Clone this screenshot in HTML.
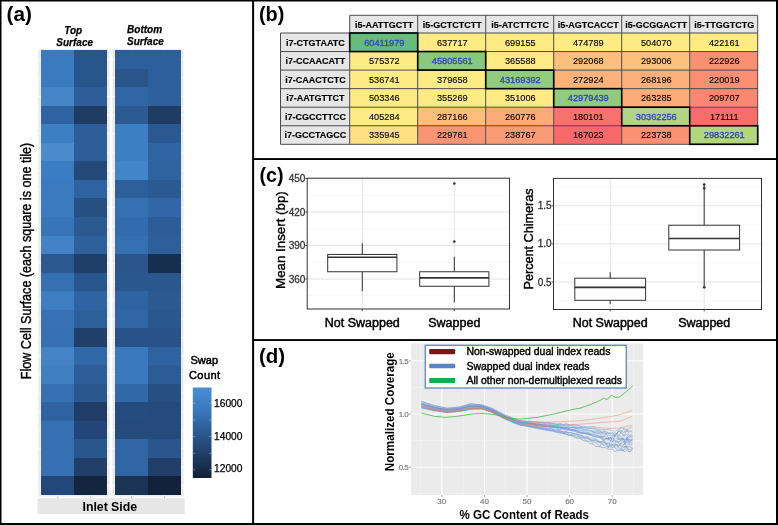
<!DOCTYPE html>
<html><head><meta charset="utf-8"><style>
html,body{margin:0;padding:0;background:#fff;}
body{width:778px;height:525px;overflow:hidden;}
svg{display:block;font-family:'Liberation Sans',sans-serif;will-change:transform;}
</style></head><body>
<svg width="778" height="525" viewBox="0 0 778 525" font-family="Liberation Sans, sans-serif">
<rect width="778" height="525" fill="#fff"/>
<rect x="38.3" y="49" width="71.3" height="447.6" fill="#ebebeb"/>
<rect x="112.4" y="49" width="71.19999999999999" height="447.6" fill="#ebebeb"/>
<line x1="38.3" x2="109.6" y1="59.47" y2="59.47" stroke="#fff" stroke-width="0.8"/>
<line x1="112.4" x2="183.6" y1="59.47" y2="59.47" stroke="#fff" stroke-width="0.8"/>
<line x1="38.3" x2="109.6" y1="78.00" y2="78.00" stroke="#fff" stroke-width="0.8"/>
<line x1="112.4" x2="183.6" y1="78.00" y2="78.00" stroke="#fff" stroke-width="0.8"/>
<line x1="38.3" x2="109.6" y1="96.53" y2="96.53" stroke="#fff" stroke-width="0.8"/>
<line x1="112.4" x2="183.6" y1="96.53" y2="96.53" stroke="#fff" stroke-width="0.8"/>
<line x1="38.3" x2="109.6" y1="115.07" y2="115.07" stroke="#fff" stroke-width="0.8"/>
<line x1="112.4" x2="183.6" y1="115.07" y2="115.07" stroke="#fff" stroke-width="0.8"/>
<line x1="38.3" x2="109.6" y1="133.60" y2="133.60" stroke="#fff" stroke-width="0.8"/>
<line x1="112.4" x2="183.6" y1="133.60" y2="133.60" stroke="#fff" stroke-width="0.8"/>
<line x1="38.3" x2="109.6" y1="152.13" y2="152.13" stroke="#fff" stroke-width="0.8"/>
<line x1="112.4" x2="183.6" y1="152.13" y2="152.13" stroke="#fff" stroke-width="0.8"/>
<line x1="38.3" x2="109.6" y1="170.67" y2="170.67" stroke="#fff" stroke-width="0.8"/>
<line x1="112.4" x2="183.6" y1="170.67" y2="170.67" stroke="#fff" stroke-width="0.8"/>
<line x1="38.3" x2="109.6" y1="189.20" y2="189.20" stroke="#fff" stroke-width="0.8"/>
<line x1="112.4" x2="183.6" y1="189.20" y2="189.20" stroke="#fff" stroke-width="0.8"/>
<line x1="38.3" x2="109.6" y1="207.73" y2="207.73" stroke="#fff" stroke-width="0.8"/>
<line x1="112.4" x2="183.6" y1="207.73" y2="207.73" stroke="#fff" stroke-width="0.8"/>
<line x1="38.3" x2="109.6" y1="226.27" y2="226.27" stroke="#fff" stroke-width="0.8"/>
<line x1="112.4" x2="183.6" y1="226.27" y2="226.27" stroke="#fff" stroke-width="0.8"/>
<line x1="38.3" x2="109.6" y1="244.80" y2="244.80" stroke="#fff" stroke-width="0.8"/>
<line x1="112.4" x2="183.6" y1="244.80" y2="244.80" stroke="#fff" stroke-width="0.8"/>
<line x1="38.3" x2="109.6" y1="263.33" y2="263.33" stroke="#fff" stroke-width="0.8"/>
<line x1="112.4" x2="183.6" y1="263.33" y2="263.33" stroke="#fff" stroke-width="0.8"/>
<line x1="38.3" x2="109.6" y1="281.87" y2="281.87" stroke="#fff" stroke-width="0.8"/>
<line x1="112.4" x2="183.6" y1="281.87" y2="281.87" stroke="#fff" stroke-width="0.8"/>
<line x1="38.3" x2="109.6" y1="300.40" y2="300.40" stroke="#fff" stroke-width="0.8"/>
<line x1="112.4" x2="183.6" y1="300.40" y2="300.40" stroke="#fff" stroke-width="0.8"/>
<line x1="38.3" x2="109.6" y1="318.93" y2="318.93" stroke="#fff" stroke-width="0.8"/>
<line x1="112.4" x2="183.6" y1="318.93" y2="318.93" stroke="#fff" stroke-width="0.8"/>
<line x1="38.3" x2="109.6" y1="337.47" y2="337.47" stroke="#fff" stroke-width="0.8"/>
<line x1="112.4" x2="183.6" y1="337.47" y2="337.47" stroke="#fff" stroke-width="0.8"/>
<line x1="38.3" x2="109.6" y1="356.00" y2="356.00" stroke="#fff" stroke-width="0.8"/>
<line x1="112.4" x2="183.6" y1="356.00" y2="356.00" stroke="#fff" stroke-width="0.8"/>
<line x1="38.3" x2="109.6" y1="374.53" y2="374.53" stroke="#fff" stroke-width="0.8"/>
<line x1="112.4" x2="183.6" y1="374.53" y2="374.53" stroke="#fff" stroke-width="0.8"/>
<line x1="38.3" x2="109.6" y1="393.07" y2="393.07" stroke="#fff" stroke-width="0.8"/>
<line x1="112.4" x2="183.6" y1="393.07" y2="393.07" stroke="#fff" stroke-width="0.8"/>
<line x1="38.3" x2="109.6" y1="411.60" y2="411.60" stroke="#fff" stroke-width="0.8"/>
<line x1="112.4" x2="183.6" y1="411.60" y2="411.60" stroke="#fff" stroke-width="0.8"/>
<line x1="38.3" x2="109.6" y1="430.13" y2="430.13" stroke="#fff" stroke-width="0.8"/>
<line x1="112.4" x2="183.6" y1="430.13" y2="430.13" stroke="#fff" stroke-width="0.8"/>
<line x1="38.3" x2="109.6" y1="448.67" y2="448.67" stroke="#fff" stroke-width="0.8"/>
<line x1="112.4" x2="183.6" y1="448.67" y2="448.67" stroke="#fff" stroke-width="0.8"/>
<line x1="38.3" x2="109.6" y1="467.20" y2="467.20" stroke="#fff" stroke-width="0.8"/>
<line x1="112.4" x2="183.6" y1="467.20" y2="467.20" stroke="#fff" stroke-width="0.8"/>
<line x1="38.3" x2="109.6" y1="485.73" y2="485.73" stroke="#fff" stroke-width="0.8"/>
<line x1="112.4" x2="183.6" y1="485.73" y2="485.73" stroke="#fff" stroke-width="0.8"/>
<line x1="57.70" x2="57.70" y1="49" y2="496.6" stroke="#fff" stroke-width="0.8"/>
<line x1="90.70" x2="90.70" y1="49" y2="496.6" stroke="#fff" stroke-width="0.8"/>
<line x1="131.60" x2="131.60" y1="49" y2="496.6" stroke="#fff" stroke-width="0.8"/>
<line x1="164.50" x2="164.50" y1="49" y2="496.6" stroke="#fff" stroke-width="0.8"/>
<rect x="41.0" y="50.20" width="33.70" height="18.83" fill="#3a7bc0" shape-rendering="crispEdges"/>
<rect x="74.4" y="50.20" width="32.90" height="18.83" fill="#27568a" shape-rendering="crispEdges"/>
<rect x="115.2" y="50.20" width="33.10" height="18.83" fill="#2e5f9d" shape-rendering="crispEdges"/>
<rect x="148.0" y="50.20" width="33.30" height="18.83" fill="#2e5f9d" shape-rendering="crispEdges"/>
<rect x="41.0" y="68.73" width="33.70" height="18.83" fill="#3a7bc0" shape-rendering="crispEdges"/>
<rect x="74.4" y="68.73" width="32.90" height="18.83" fill="#27568a" shape-rendering="crispEdges"/>
<rect x="115.2" y="68.73" width="33.10" height="18.83" fill="#2a558a" shape-rendering="crispEdges"/>
<rect x="148.0" y="68.73" width="33.30" height="18.83" fill="#2e5f9d" shape-rendering="crispEdges"/>
<rect x="41.0" y="87.27" width="33.70" height="18.83" fill="#4586c9" shape-rendering="crispEdges"/>
<rect x="74.4" y="87.27" width="32.90" height="18.83" fill="#2d5e9a" shape-rendering="crispEdges"/>
<rect x="115.2" y="87.27" width="33.10" height="18.83" fill="#3066a3" shape-rendering="crispEdges"/>
<rect x="148.0" y="87.27" width="33.30" height="18.83" fill="#2e5f9d" shape-rendering="crispEdges"/>
<rect x="41.0" y="105.80" width="33.70" height="18.83" fill="#2f62a0" shape-rendering="crispEdges"/>
<rect x="74.4" y="105.80" width="32.90" height="18.83" fill="#1f3c62" shape-rendering="crispEdges"/>
<rect x="115.2" y="105.80" width="33.10" height="18.83" fill="#2c5b94" shape-rendering="crispEdges"/>
<rect x="148.0" y="105.80" width="33.30" height="18.83" fill="#1f3c62" shape-rendering="crispEdges"/>
<rect x="41.0" y="124.33" width="33.70" height="18.83" fill="#3d7fc3" shape-rendering="crispEdges"/>
<rect x="74.4" y="124.33" width="32.90" height="18.83" fill="#2d5e9a" shape-rendering="crispEdges"/>
<rect x="115.2" y="124.33" width="33.10" height="18.83" fill="#3d7fc3" shape-rendering="crispEdges"/>
<rect x="148.0" y="124.33" width="33.30" height="18.83" fill="#2b5890" shape-rendering="crispEdges"/>
<rect x="41.0" y="142.87" width="33.70" height="18.83" fill="#4a8bcc" shape-rendering="crispEdges"/>
<rect x="74.4" y="142.87" width="32.90" height="18.83" fill="#2d5e9a" shape-rendering="crispEdges"/>
<rect x="115.2" y="142.87" width="33.10" height="18.83" fill="#3d7fc3" shape-rendering="crispEdges"/>
<rect x="148.0" y="142.87" width="33.30" height="18.83" fill="#3065a3" shape-rendering="crispEdges"/>
<rect x="41.0" y="161.40" width="33.70" height="18.83" fill="#3b7dc2" shape-rendering="crispEdges"/>
<rect x="74.4" y="161.40" width="32.90" height="18.83" fill="#234a78" shape-rendering="crispEdges"/>
<rect x="115.2" y="161.40" width="33.10" height="18.83" fill="#4286c9" shape-rendering="crispEdges"/>
<rect x="148.0" y="161.40" width="33.30" height="18.83" fill="#2f63a0" shape-rendering="crispEdges"/>
<rect x="41.0" y="179.93" width="33.70" height="18.83" fill="#3a7bc0" shape-rendering="crispEdges"/>
<rect x="74.4" y="179.93" width="32.90" height="18.83" fill="#2e62a0" shape-rendering="crispEdges"/>
<rect x="115.2" y="179.93" width="33.10" height="18.83" fill="#2d5f9a" shape-rendering="crispEdges"/>
<rect x="148.0" y="179.93" width="33.30" height="18.83" fill="#2b5a93" shape-rendering="crispEdges"/>
<rect x="41.0" y="198.47" width="33.70" height="18.83" fill="#3b7cc1" shape-rendering="crispEdges"/>
<rect x="74.4" y="198.47" width="32.90" height="18.83" fill="#26507f" shape-rendering="crispEdges"/>
<rect x="115.2" y="198.47" width="33.10" height="18.83" fill="#3570b2" shape-rendering="crispEdges"/>
<rect x="148.0" y="198.47" width="33.30" height="18.83" fill="#3167a8" shape-rendering="crispEdges"/>
<rect x="41.0" y="217.00" width="33.70" height="18.83" fill="#3874b8" shape-rendering="crispEdges"/>
<rect x="74.4" y="217.00" width="32.90" height="18.83" fill="#2b5a90" shape-rendering="crispEdges"/>
<rect x="115.2" y="217.00" width="33.10" height="18.83" fill="#336cae" shape-rendering="crispEdges"/>
<rect x="148.0" y="217.00" width="33.30" height="18.83" fill="#2d5d98" shape-rendering="crispEdges"/>
<rect x="41.0" y="235.53" width="33.70" height="18.83" fill="#4183c6" shape-rendering="crispEdges"/>
<rect x="74.4" y="235.53" width="32.90" height="18.83" fill="#2e609c" shape-rendering="crispEdges"/>
<rect x="115.2" y="235.53" width="33.10" height="18.83" fill="#3570b2" shape-rendering="crispEdges"/>
<rect x="148.0" y="235.53" width="33.30" height="18.83" fill="#2e5f9b" shape-rendering="crispEdges"/>
<rect x="41.0" y="254.07" width="33.70" height="18.83" fill="#2b5990" shape-rendering="crispEdges"/>
<rect x="74.4" y="254.07" width="32.90" height="18.83" fill="#1f3f68" shape-rendering="crispEdges"/>
<rect x="115.2" y="254.07" width="33.10" height="18.83" fill="#2a568c" shape-rendering="crispEdges"/>
<rect x="148.0" y="254.07" width="33.30" height="18.83" fill="#172f4f" shape-rendering="crispEdges"/>
<rect x="41.0" y="272.60" width="33.70" height="18.83" fill="#3570b3" shape-rendering="crispEdges"/>
<rect x="74.4" y="272.60" width="32.90" height="18.83" fill="#2a568e" shape-rendering="crispEdges"/>
<rect x="115.2" y="272.60" width="33.10" height="18.83" fill="#2a578e" shape-rendering="crispEdges"/>
<rect x="148.0" y="272.60" width="33.30" height="18.83" fill="#2a578e" shape-rendering="crispEdges"/>
<rect x="41.0" y="291.13" width="33.70" height="18.83" fill="#3d7dc1" shape-rendering="crispEdges"/>
<rect x="74.4" y="291.13" width="32.90" height="18.83" fill="#2f63a1" shape-rendering="crispEdges"/>
<rect x="115.2" y="291.13" width="33.10" height="18.83" fill="#2f64a2" shape-rendering="crispEdges"/>
<rect x="148.0" y="291.13" width="33.30" height="18.83" fill="#2b5990" shape-rendering="crispEdges"/>
<rect x="41.0" y="309.67" width="33.70" height="18.83" fill="#3672b5" shape-rendering="crispEdges"/>
<rect x="74.4" y="309.67" width="32.90" height="18.83" fill="#2d5f9b" shape-rendering="crispEdges"/>
<rect x="115.2" y="309.67" width="33.10" height="18.83" fill="#3066a3" shape-rendering="crispEdges"/>
<rect x="148.0" y="309.67" width="33.30" height="18.83" fill="#2a578e" shape-rendering="crispEdges"/>
<rect x="41.0" y="328.20" width="33.70" height="18.83" fill="#3570b3" shape-rendering="crispEdges"/>
<rect x="74.4" y="328.20" width="32.90" height="18.83" fill="#203f69" shape-rendering="crispEdges"/>
<rect x="115.2" y="328.20" width="33.10" height="18.83" fill="#28528a" shape-rendering="crispEdges"/>
<rect x="148.0" y="328.20" width="33.30" height="18.83" fill="#28528a" shape-rendering="crispEdges"/>
<rect x="41.0" y="346.73" width="33.70" height="18.83" fill="#4484c6" shape-rendering="crispEdges"/>
<rect x="74.4" y="346.73" width="32.90" height="18.83" fill="#3168a8" shape-rendering="crispEdges"/>
<rect x="115.2" y="346.73" width="33.10" height="18.83" fill="#3a79bd" shape-rendering="crispEdges"/>
<rect x="148.0" y="346.73" width="33.30" height="18.83" fill="#2f62a0" shape-rendering="crispEdges"/>
<rect x="41.0" y="365.27" width="33.70" height="18.83" fill="#3f80c3" shape-rendering="crispEdges"/>
<rect x="74.4" y="365.27" width="32.90" height="18.83" fill="#2d5e9a" shape-rendering="crispEdges"/>
<rect x="115.2" y="365.27" width="33.10" height="18.83" fill="#3a79bd" shape-rendering="crispEdges"/>
<rect x="148.0" y="365.27" width="33.30" height="18.83" fill="#2c5c96" shape-rendering="crispEdges"/>
<rect x="41.0" y="383.80" width="33.70" height="18.83" fill="#3570b3" shape-rendering="crispEdges"/>
<rect x="74.4" y="383.80" width="32.90" height="18.83" fill="#2a578e" shape-rendering="crispEdges"/>
<rect x="115.2" y="383.80" width="33.10" height="18.83" fill="#3168a8" shape-rendering="crispEdges"/>
<rect x="148.0" y="383.80" width="33.30" height="18.83" fill="#274f82" shape-rendering="crispEdges"/>
<rect x="41.0" y="402.33" width="33.70" height="18.83" fill="#2e62a0" shape-rendering="crispEdges"/>
<rect x="74.4" y="402.33" width="32.90" height="18.83" fill="#1f3d66" shape-rendering="crispEdges"/>
<rect x="115.2" y="402.33" width="33.10" height="18.83" fill="#254c7e" shape-rendering="crispEdges"/>
<rect x="148.0" y="402.33" width="33.30" height="18.83" fill="#244b7c" shape-rendering="crispEdges"/>
<rect x="41.0" y="420.87" width="33.70" height="18.83" fill="#3570b3" shape-rendering="crispEdges"/>
<rect x="74.4" y="420.87" width="32.90" height="18.83" fill="#23467a" shape-rendering="crispEdges"/>
<rect x="115.2" y="420.87" width="33.10" height="18.83" fill="#244b7c" shape-rendering="crispEdges"/>
<rect x="148.0" y="420.87" width="33.30" height="18.83" fill="#244b7c" shape-rendering="crispEdges"/>
<rect x="41.0" y="439.40" width="33.70" height="18.83" fill="#3570b3" shape-rendering="crispEdges"/>
<rect x="74.4" y="439.40" width="32.90" height="18.83" fill="#2a568e" shape-rendering="crispEdges"/>
<rect x="115.2" y="439.40" width="33.10" height="18.83" fill="#3066a3" shape-rendering="crispEdges"/>
<rect x="148.0" y="439.40" width="33.30" height="18.83" fill="#2a568d" shape-rendering="crispEdges"/>
<rect x="41.0" y="457.93" width="33.70" height="18.83" fill="#3570b3" shape-rendering="crispEdges"/>
<rect x="74.4" y="457.93" width="32.90" height="18.83" fill="#213f69" shape-rendering="crispEdges"/>
<rect x="115.2" y="457.93" width="33.10" height="18.83" fill="#3066a3" shape-rendering="crispEdges"/>
<rect x="148.0" y="457.93" width="33.30" height="18.83" fill="#213f69" shape-rendering="crispEdges"/>
<rect x="41.0" y="476.47" width="33.70" height="18.83" fill="#23477a" shape-rendering="crispEdges"/>
<rect x="74.4" y="476.47" width="32.90" height="18.83" fill="#14263f" shape-rendering="crispEdges"/>
<rect x="115.2" y="476.47" width="33.10" height="18.83" fill="#1b3454" shape-rendering="crispEdges"/>
<rect x="148.0" y="476.47" width="33.30" height="18.83" fill="#12223a" shape-rendering="crispEdges"/>
<line x1="57.7" x2="57.7" y1="496.6" y2="498.3" stroke="#999" stroke-width="0.8"/>
<line x1="90.7" x2="90.7" y1="496.6" y2="498.3" stroke="#999" stroke-width="0.8"/>
<line x1="131.6" x2="131.6" y1="496.6" y2="498.3" stroke="#999" stroke-width="0.8"/>
<line x1="164.5" x2="164.5" y1="496.6" y2="498.3" stroke="#999" stroke-width="0.8"/>
<rect x="37.6" y="498.3" width="147.1" height="15.699999999999989" fill="#e6e6e6"/>
<text x="109.8" y="510.6" font-size="12.4" font-weight="bold" font-style="normal" text-anchor="middle" fill="#000" textLength="54.5">Inlet Side</text>
<text x="73.2" y="34.0" font-size="10" font-weight="bold" font-style="italic" text-anchor="middle" fill="#000" stroke="#000" stroke-width="0.25" >Top</text>
<text x="74.7" y="45.6" font-size="10" font-weight="bold" font-style="italic" text-anchor="middle" fill="#000" stroke="#000" stroke-width="0.25" >Surface</text>
<text x="127.1" y="33.4" font-size="10" font-weight="bold" font-style="italic" text-anchor="start" fill="#000" stroke="#000" stroke-width="0.25" >Bottom</text>
<text x="127.1" y="45.3" font-size="10" font-weight="bold" font-style="italic" text-anchor="start" fill="#000" stroke="#000" stroke-width="0.25" >Surface</text>
<text transform="translate(30.6,261.0) rotate(-90)" font-size="14.4" text-anchor="middle" textLength="236.5" stroke="#000" stroke-width="0.4" lengthAdjust="spacingAndGlyphs">Flow Cell  Surface (each square is one tile)</text>
<defs><linearGradient id="lg" x1="0" y1="1" x2="0" y2="0"><stop offset="0.00" stop-color="#101f35"/><stop offset="0.05" stop-color="#13253e"/><stop offset="0.10" stop-color="#162b47"/><stop offset="0.15" stop-color="#193051"/><stop offset="0.20" stop-color="#1c365a"/><stop offset="0.25" stop-color="#1f3c63"/><stop offset="0.30" stop-color="#21426c"/><stop offset="0.35" stop-color="#244876"/><stop offset="0.40" stop-color="#264d7f"/><stop offset="0.45" stop-color="#295389"/><stop offset="0.50" stop-color="#2b5992"/><stop offset="0.55" stop-color="#2e5f9b"/><stop offset="0.60" stop-color="#3165a3"/><stop offset="0.65" stop-color="#336cac"/><stop offset="0.70" stop-color="#3672b4"/><stop offset="0.75" stop-color="#3978bd"/><stop offset="0.80" stop-color="#3c7dc2"/><stop offset="0.85" stop-color="#4081c6"/><stop offset="0.90" stop-color="#4386cb"/><stop offset="0.95" stop-color="#478acf"/><stop offset="1.00" stop-color="#4a8fd4"/></linearGradient></defs>
<rect x="192.8" y="387.5" width="18.69999999999999" height="90.5" fill="url(#lg)"/>
<line x1="192.8" x2="195.5" y1="403.2" y2="403.2" stroke="#fff" stroke-width="0.5" stroke-opacity="0.6"/>
<line x1="208.8" x2="211.5" y1="403.2" y2="403.2" stroke="#fff" stroke-width="0.5" stroke-opacity="0.6"/>
<line x1="192.8" x2="195.5" y1="420.0" y2="420.0" stroke="#fff" stroke-width="0.5" stroke-opacity="0.6"/>
<line x1="208.8" x2="211.5" y1="420.0" y2="420.0" stroke="#fff" stroke-width="0.5" stroke-opacity="0.6"/>
<line x1="192.8" x2="195.5" y1="436.5" y2="436.5" stroke="#fff" stroke-width="0.5" stroke-opacity="0.6"/>
<line x1="208.8" x2="211.5" y1="436.5" y2="436.5" stroke="#fff" stroke-width="0.5" stroke-opacity="0.6"/>
<line x1="192.8" x2="195.5" y1="453.3" y2="453.3" stroke="#fff" stroke-width="0.5" stroke-opacity="0.6"/>
<line x1="208.8" x2="211.5" y1="453.3" y2="453.3" stroke="#fff" stroke-width="0.5" stroke-opacity="0.6"/>
<line x1="192.8" x2="195.5" y1="469.8" y2="469.8" stroke="#fff" stroke-width="0.5" stroke-opacity="0.6"/>
<line x1="208.8" x2="211.5" y1="469.8" y2="469.8" stroke="#fff" stroke-width="0.5" stroke-opacity="0.6"/>
<text x="214.1" y="406.9" font-size="10.2" font-weight="normal" font-style="normal" text-anchor="start" fill="#000" stroke="#000" stroke-width="0.25" >16000</text>
<text x="214.1" y="439.6" font-size="10.2" font-weight="normal" font-style="normal" text-anchor="start" fill="#000" stroke="#000" stroke-width="0.25" >14000</text>
<text x="214.1" y="472.2" font-size="10.2" font-weight="normal" font-style="normal" text-anchor="start" fill="#000" stroke="#000" stroke-width="0.25" >12000</text>
<text x="190.5" y="364.3" font-size="11" font-weight="normal" font-style="normal" text-anchor="start" fill="#000" stroke="#000" stroke-width="0.5" >Swap</text>
<text x="189" y="379.3" font-size="11" font-weight="normal" font-style="normal" text-anchor="start" fill="#000" stroke="#000" stroke-width="0.5" textLength="31">Count</text>
<rect x="349.7" y="15.3" width="408.0" height="17.7" fill="#e6e6e6"/>
<rect x="280.5" y="33.0" width="69.19999999999999" height="111.30000000000001" fill="#e6e6e6"/>
<rect x="349.70" y="33.00" width="68.00" height="18.55" fill="#63be7b"/>
<rect x="417.70" y="33.00" width="68.00" height="18.55" fill="#feeb84"/>
<rect x="485.70" y="33.00" width="68.00" height="18.55" fill="#feeb84"/>
<rect x="553.70" y="33.00" width="68.00" height="18.55" fill="#ffeb84"/>
<rect x="621.70" y="33.00" width="68.00" height="18.55" fill="#ffeb84"/>
<rect x="689.70" y="33.00" width="68.00" height="18.55" fill="#ffeb84"/>
<rect x="349.70" y="51.55" width="68.00" height="18.55" fill="#feeb84"/>
<rect x="417.70" y="51.55" width="68.00" height="18.55" fill="#89c97d"/>
<rect x="485.70" y="51.55" width="68.00" height="18.55" fill="#ffeb84"/>
<rect x="553.70" y="51.55" width="68.00" height="18.55" fill="#fdc07c"/>
<rect x="621.70" y="51.55" width="68.00" height="18.55" fill="#fdc17c"/>
<rect x="689.70" y="51.55" width="68.00" height="18.55" fill="#fa9073"/>
<rect x="349.70" y="70.10" width="68.00" height="18.55" fill="#ffeb84"/>
<rect x="417.70" y="70.10" width="68.00" height="18.55" fill="#ffeb84"/>
<rect x="485.70" y="70.10" width="68.00" height="18.55" fill="#90cb7e"/>
<rect x="553.70" y="70.10" width="68.00" height="18.55" fill="#fcb379"/>
<rect x="621.70" y="70.10" width="68.00" height="18.55" fill="#fcb079"/>
<rect x="689.70" y="70.10" width="68.00" height="18.55" fill="#fa8e72"/>
<rect x="349.70" y="88.65" width="68.00" height="18.55" fill="#ffeb84"/>
<rect x="417.70" y="88.65" width="68.00" height="18.55" fill="#ffeb84"/>
<rect x="485.70" y="88.65" width="68.00" height="18.55" fill="#ffea84"/>
<rect x="553.70" y="88.65" width="68.00" height="18.55" fill="#90cb7e"/>
<rect x="621.70" y="88.65" width="68.00" height="18.55" fill="#fcac78"/>
<rect x="689.70" y="88.65" width="68.00" height="18.55" fill="#fa8771"/>
<rect x="349.70" y="107.20" width="68.00" height="18.55" fill="#ffeb84"/>
<rect x="417.70" y="107.20" width="68.00" height="18.55" fill="#fdbd7b"/>
<rect x="485.70" y="107.20" width="68.00" height="18.55" fill="#fcaa78"/>
<rect x="553.70" y="107.20" width="68.00" height="18.55" fill="#f8726d"/>
<rect x="621.70" y="107.20" width="68.00" height="18.55" fill="#b1d580"/>
<rect x="689.70" y="107.20" width="68.00" height="18.55" fill="#f86c6c"/>
<rect x="349.70" y="125.75" width="68.00" height="18.55" fill="#fedf82"/>
<rect x="417.70" y="125.75" width="68.00" height="18.55" fill="#fa9573"/>
<rect x="485.70" y="125.75" width="68.00" height="18.55" fill="#fb9b75"/>
<rect x="553.70" y="125.75" width="68.00" height="18.55" fill="#f8696b"/>
<rect x="621.70" y="125.75" width="68.00" height="18.55" fill="#fa9173"/>
<rect x="689.70" y="125.75" width="68.00" height="18.55" fill="#b2d580"/>
<line x1="349.70" x2="349.70" y1="15.3" y2="144.30" stroke="#4a4a4a" stroke-width="1"/>
<line x1="417.70" x2="417.70" y1="15.3" y2="144.30" stroke="#4a4a4a" stroke-width="1"/>
<line x1="485.70" x2="485.70" y1="15.3" y2="144.30" stroke="#4a4a4a" stroke-width="1"/>
<line x1="553.70" x2="553.70" y1="15.3" y2="144.30" stroke="#4a4a4a" stroke-width="1"/>
<line x1="621.70" x2="621.70" y1="15.3" y2="144.30" stroke="#4a4a4a" stroke-width="1"/>
<line x1="689.70" x2="689.70" y1="15.3" y2="144.30" stroke="#4a4a4a" stroke-width="1"/>
<line x1="757.70" x2="757.70" y1="15.3" y2="144.30" stroke="#4a4a4a" stroke-width="1"/>
<line x1="280.5" x2="280.5" y1="33.0" y2="144.30" stroke="#4a4a4a" stroke-width="1"/>
<line x1="349.7" x2="757.7" y1="15.3" y2="15.3" stroke="#4a4a4a" stroke-width="1"/>
<line x1="280.5" x2="757.7" y1="33.00" y2="33.00" stroke="#4a4a4a" stroke-width="1"/>
<line x1="280.5" x2="757.7" y1="51.55" y2="51.55" stroke="#4a4a4a" stroke-width="1"/>
<line x1="280.5" x2="757.7" y1="70.10" y2="70.10" stroke="#4a4a4a" stroke-width="1"/>
<line x1="280.5" x2="757.7" y1="88.65" y2="88.65" stroke="#4a4a4a" stroke-width="1"/>
<line x1="280.5" x2="757.7" y1="107.20" y2="107.20" stroke="#4a4a4a" stroke-width="1"/>
<line x1="280.5" x2="757.7" y1="125.75" y2="125.75" stroke="#4a4a4a" stroke-width="1"/>
<line x1="280.5" x2="757.7" y1="144.30" y2="144.30" stroke="#4a4a4a" stroke-width="1"/>
<rect x="349.70" y="33.00" width="68.00" height="18.55" fill="none" stroke="#000" stroke-width="1.6"/>
<rect x="417.70" y="51.55" width="68.00" height="18.55" fill="none" stroke="#000" stroke-width="1.6"/>
<rect x="485.70" y="70.10" width="68.00" height="18.55" fill="none" stroke="#000" stroke-width="1.6"/>
<rect x="553.70" y="88.65" width="68.00" height="18.55" fill="none" stroke="#000" stroke-width="1.6"/>
<rect x="621.70" y="107.20" width="68.00" height="18.55" fill="none" stroke="#000" stroke-width="1.6"/>
<rect x="689.70" y="125.75" width="68.00" height="18.55" fill="none" stroke="#000" stroke-width="1.6"/>
<text x="384.20" y="27.80" font-size="9" font-weight="bold" font-style="normal" text-anchor="middle" fill="#000" stroke="#000" stroke-width="0.15" >i5-AATTGCTT</text>
<text x="452.20" y="27.80" font-size="9" font-weight="bold" font-style="normal" text-anchor="middle" fill="#000" stroke="#000" stroke-width="0.15" >i5-GCTCTCTT</text>
<text x="520.20" y="27.80" font-size="9" font-weight="bold" font-style="normal" text-anchor="middle" fill="#000" stroke="#000" stroke-width="0.15" >i5-ATCTTCTC</text>
<text x="588.20" y="27.80" font-size="9" font-weight="bold" font-style="normal" text-anchor="middle" fill="#000" stroke="#000" stroke-width="0.15" >i5-AGTCACCT</text>
<text x="656.20" y="27.80" font-size="9" font-weight="bold" font-style="normal" text-anchor="middle" fill="#000" stroke="#000" stroke-width="0.15" >i5-GCGGACTT</text>
<text x="724.20" y="27.80" font-size="9" font-weight="bold" font-style="normal" text-anchor="middle" fill="#000" stroke="#000" stroke-width="0.15" >i5-TTGGTCTG</text>
<text x="315.40" y="45.57" font-size="9" font-weight="bold" font-style="normal" text-anchor="middle" fill="#000" stroke="#000" stroke-width="0.15" >i7-CTGTAATC</text>
<text x="384.30" y="45.67" font-size="9.2" font-weight="normal" font-style="normal" text-anchor="middle" fill="#3448bb" stroke="#3448bb" stroke-width="0.35">60411979</text>
<text x="452.30" y="45.67" font-size="9.2" font-weight="normal" font-style="normal" text-anchor="middle" fill="#000" stroke="#000" stroke-width="0.12">637717</text>
<text x="520.30" y="45.67" font-size="9.2" font-weight="normal" font-style="normal" text-anchor="middle" fill="#000" stroke="#000" stroke-width="0.12">699155</text>
<text x="588.30" y="45.67" font-size="9.2" font-weight="normal" font-style="normal" text-anchor="middle" fill="#000" stroke="#000" stroke-width="0.12">474789</text>
<text x="656.30" y="45.67" font-size="9.2" font-weight="normal" font-style="normal" text-anchor="middle" fill="#000" stroke="#000" stroke-width="0.12">504070</text>
<text x="724.30" y="45.67" font-size="9.2" font-weight="normal" font-style="normal" text-anchor="middle" fill="#000" stroke="#000" stroke-width="0.12">422161</text>
<text x="315.40" y="64.12" font-size="9" font-weight="bold" font-style="normal" text-anchor="middle" fill="#000" stroke="#000" stroke-width="0.15" >i7-CCAACATT</text>
<text x="384.30" y="64.22" font-size="9.2" font-weight="normal" font-style="normal" text-anchor="middle" fill="#000" stroke="#000" stroke-width="0.12">575372</text>
<text x="452.30" y="64.22" font-size="9.2" font-weight="normal" font-style="normal" text-anchor="middle" fill="#3448bb" stroke="#3448bb" stroke-width="0.35">45805561</text>
<text x="520.30" y="64.22" font-size="9.2" font-weight="normal" font-style="normal" text-anchor="middle" fill="#000" stroke="#000" stroke-width="0.12">365588</text>
<text x="588.30" y="64.22" font-size="9.2" font-weight="normal" font-style="normal" text-anchor="middle" fill="#000" stroke="#000" stroke-width="0.12">292068</text>
<text x="656.30" y="64.22" font-size="9.2" font-weight="normal" font-style="normal" text-anchor="middle" fill="#000" stroke="#000" stroke-width="0.12">293006</text>
<text x="724.30" y="64.22" font-size="9.2" font-weight="normal" font-style="normal" text-anchor="middle" fill="#000" stroke="#000" stroke-width="0.12">222926</text>
<text x="315.40" y="82.67" font-size="9" font-weight="bold" font-style="normal" text-anchor="middle" fill="#000" stroke="#000" stroke-width="0.15" >i7-CAACTCTC</text>
<text x="384.30" y="82.78" font-size="9.2" font-weight="normal" font-style="normal" text-anchor="middle" fill="#000" stroke="#000" stroke-width="0.12">536741</text>
<text x="452.30" y="82.78" font-size="9.2" font-weight="normal" font-style="normal" text-anchor="middle" fill="#000" stroke="#000" stroke-width="0.12">379658</text>
<text x="520.30" y="82.78" font-size="9.2" font-weight="normal" font-style="normal" text-anchor="middle" fill="#3448bb" stroke="#3448bb" stroke-width="0.35">43169392</text>
<text x="588.30" y="82.78" font-size="9.2" font-weight="normal" font-style="normal" text-anchor="middle" fill="#000" stroke="#000" stroke-width="0.12">272924</text>
<text x="656.30" y="82.78" font-size="9.2" font-weight="normal" font-style="normal" text-anchor="middle" fill="#000" stroke="#000" stroke-width="0.12">268196</text>
<text x="724.30" y="82.78" font-size="9.2" font-weight="normal" font-style="normal" text-anchor="middle" fill="#000" stroke="#000" stroke-width="0.12">220019</text>
<text x="315.40" y="101.23" font-size="9" font-weight="bold" font-style="normal" text-anchor="middle" fill="#000" stroke="#000" stroke-width="0.15" >i7-AATGTTCT</text>
<text x="384.30" y="101.33" font-size="9.2" font-weight="normal" font-style="normal" text-anchor="middle" fill="#000" stroke="#000" stroke-width="0.12">503346</text>
<text x="452.30" y="101.33" font-size="9.2" font-weight="normal" font-style="normal" text-anchor="middle" fill="#000" stroke="#000" stroke-width="0.12">355269</text>
<text x="520.30" y="101.33" font-size="9.2" font-weight="normal" font-style="normal" text-anchor="middle" fill="#000" stroke="#000" stroke-width="0.12">351006</text>
<text x="588.30" y="101.33" font-size="9.2" font-weight="normal" font-style="normal" text-anchor="middle" fill="#3448bb" stroke="#3448bb" stroke-width="0.35">42979439</text>
<text x="656.30" y="101.33" font-size="9.2" font-weight="normal" font-style="normal" text-anchor="middle" fill="#000" stroke="#000" stroke-width="0.12">263285</text>
<text x="724.30" y="101.33" font-size="9.2" font-weight="normal" font-style="normal" text-anchor="middle" fill="#000" stroke="#000" stroke-width="0.12">209707</text>
<text x="315.40" y="119.78" font-size="9" font-weight="bold" font-style="normal" text-anchor="middle" fill="#000" stroke="#000" stroke-width="0.15" >i7-CGCCTTCC</text>
<text x="384.30" y="119.88" font-size="9.2" font-weight="normal" font-style="normal" text-anchor="middle" fill="#000" stroke="#000" stroke-width="0.12">405284</text>
<text x="452.30" y="119.88" font-size="9.2" font-weight="normal" font-style="normal" text-anchor="middle" fill="#000" stroke="#000" stroke-width="0.12">287166</text>
<text x="520.30" y="119.88" font-size="9.2" font-weight="normal" font-style="normal" text-anchor="middle" fill="#000" stroke="#000" stroke-width="0.12">260776</text>
<text x="588.30" y="119.88" font-size="9.2" font-weight="normal" font-style="normal" text-anchor="middle" fill="#000" stroke="#000" stroke-width="0.12">180101</text>
<text x="656.30" y="119.88" font-size="9.2" font-weight="normal" font-style="normal" text-anchor="middle" fill="#3448bb" stroke="#3448bb" stroke-width="0.35">30362256</text>
<text x="724.30" y="119.88" font-size="9.2" font-weight="normal" font-style="normal" text-anchor="middle" fill="#000" stroke="#000" stroke-width="0.12">171111</text>
<text x="315.40" y="138.33" font-size="9" font-weight="bold" font-style="normal" text-anchor="middle" fill="#000" stroke="#000" stroke-width="0.15" >i7-GCCTAGCC</text>
<text x="384.30" y="138.43" font-size="9.2" font-weight="normal" font-style="normal" text-anchor="middle" fill="#000" stroke="#000" stroke-width="0.12">335945</text>
<text x="452.30" y="138.43" font-size="9.2" font-weight="normal" font-style="normal" text-anchor="middle" fill="#000" stroke="#000" stroke-width="0.12">229761</text>
<text x="520.30" y="138.43" font-size="9.2" font-weight="normal" font-style="normal" text-anchor="middle" fill="#000" stroke="#000" stroke-width="0.12">238767</text>
<text x="588.30" y="138.43" font-size="9.2" font-weight="normal" font-style="normal" text-anchor="middle" fill="#000" stroke="#000" stroke-width="0.12">167023</text>
<text x="656.30" y="138.43" font-size="9.2" font-weight="normal" font-style="normal" text-anchor="middle" fill="#000" stroke="#000" stroke-width="0.12">223738</text>
<text x="724.30" y="138.43" font-size="9.2" font-weight="normal" font-style="normal" text-anchor="middle" fill="#3448bb" stroke="#3448bb" stroke-width="0.35">29832261</text>
<line x1="307.2" x2="509.5" y1="195.25" y2="195.25" stroke="#f0f0f0" stroke-width="0.6"/>
<line x1="307.2" x2="509.5" y1="228.75" y2="228.75" stroke="#f0f0f0" stroke-width="0.6"/>
<line x1="307.2" x2="509.5" y1="262.25" y2="262.25" stroke="#f0f0f0" stroke-width="0.6"/>
<line x1="307.2" x2="509.5" y1="295.75" y2="295.75" stroke="#f0f0f0" stroke-width="0.6"/>
<line x1="307.2" x2="509.5" y1="178.50" y2="178.50" stroke="#e4e4e4" stroke-width="1"/>
<line x1="307.2" x2="509.5" y1="212.00" y2="212.00" stroke="#e4e4e4" stroke-width="1"/>
<line x1="307.2" x2="509.5" y1="245.50" y2="245.50" stroke="#e4e4e4" stroke-width="1"/>
<line x1="307.2" x2="509.5" y1="279.00" y2="279.00" stroke="#e4e4e4" stroke-width="1"/>
<line x1="362.3" x2="362.3" y1="178.2" y2="309.0" stroke="#e4e4e4" stroke-width="1"/>
<line x1="454.3" x2="454.3" y1="178.2" y2="309.0" stroke="#e4e4e4" stroke-width="1"/>
<line x1="362.3" x2="362.3" y1="243.27" y2="254.43" stroke="#333" stroke-width="1"/>
<line x1="362.3" x2="362.3" y1="271.74" y2="291.28" stroke="#333" stroke-width="1"/>
<rect x="327.70" y="254.43" width="69.20" height="17.31" fill="#fff" stroke="#333" stroke-width="1"/>
<line x1="327.70" x2="396.90" y1="257.23" y2="257.23" stroke="#333" stroke-width="1.6"/>
<line x1="454.3" x2="454.3" y1="256.67" y2="271.74" stroke="#333" stroke-width="1"/>
<line x1="454.3" x2="454.3" y1="286.26" y2="302.45" stroke="#333" stroke-width="1"/>
<rect x="419.70" y="271.74" width="69.20" height="14.52" fill="#fff" stroke="#333" stroke-width="1"/>
<line x1="419.70" x2="488.90" y1="277.88" y2="277.88" stroke="#333" stroke-width="1.6"/>
<circle cx="454.3" cy="183.53" r="1.3" fill="#333"/>
<circle cx="454.3" cy="241.59" r="1.3" fill="#333"/>
<rect x="307.2" y="178.2" width="202.3" height="130.8" fill="none" stroke="#333" stroke-width="1"/>
<text x="305.4" y="182.00" font-size="10" font-weight="normal" font-style="normal" text-anchor="end" fill="#333" stroke="#333" stroke-width="0.3" >450</text>
<line x1="305.2" x2="307.2" y1="178.50" y2="178.50" stroke="#333" stroke-width="0.8"/>
<text x="305.4" y="215.50" font-size="10" font-weight="normal" font-style="normal" text-anchor="end" fill="#333" stroke="#333" stroke-width="0.3" >420</text>
<line x1="305.2" x2="307.2" y1="212.00" y2="212.00" stroke="#333" stroke-width="0.8"/>
<text x="305.4" y="249.00" font-size="10" font-weight="normal" font-style="normal" text-anchor="end" fill="#333" stroke="#333" stroke-width="0.3" >390</text>
<line x1="305.2" x2="307.2" y1="245.50" y2="245.50" stroke="#333" stroke-width="0.8"/>
<text x="305.4" y="282.50" font-size="10" font-weight="normal" font-style="normal" text-anchor="end" fill="#333" stroke="#333" stroke-width="0.3" >360</text>
<line x1="305.2" x2="307.2" y1="279.00" y2="279.00" stroke="#333" stroke-width="0.8"/>
<line x1="362.3" x2="362.3" y1="309.0" y2="311.0" stroke="#333" stroke-width="0.8"/>
<text x="362.3" y="326.7" font-size="12.5" font-weight="normal" font-style="normal" text-anchor="middle" fill="#000" stroke="#000" stroke-width="0.45" >Not Swapped</text>
<line x1="454.3" x2="454.3" y1="309.0" y2="311.0" stroke="#333" stroke-width="0.8"/>
<text x="454.3" y="326.7" font-size="12.5" font-weight="normal" font-style="normal" text-anchor="middle" fill="#000" stroke="#000" stroke-width="0.45" >Swapped</text>
<text transform="translate(285.0,240.10) rotate(-90)" font-size="13.3" text-anchor="middle" textLength="97.7" lengthAdjust="spacingAndGlyphs" stroke="#000" stroke-width="0.4">Mean Insert (bp)</text>
<line x1="553.5" x2="761.5" y1="186.75" y2="186.75" stroke="#f0f0f0" stroke-width="0.6"/>
<line x1="553.5" x2="761.5" y1="224.85" y2="224.85" stroke="#f0f0f0" stroke-width="0.6"/>
<line x1="553.5" x2="761.5" y1="262.95" y2="262.95" stroke="#f0f0f0" stroke-width="0.6"/>
<line x1="553.5" x2="761.5" y1="301.05" y2="301.05" stroke="#f0f0f0" stroke-width="0.6"/>
<line x1="553.5" x2="761.5" y1="205.80" y2="205.80" stroke="#e4e4e4" stroke-width="1"/>
<line x1="553.5" x2="761.5" y1="243.90" y2="243.90" stroke="#e4e4e4" stroke-width="1"/>
<line x1="553.5" x2="761.5" y1="282.00" y2="282.00" stroke="#e4e4e4" stroke-width="1"/>
<line x1="610.2" x2="610.2" y1="178.4" y2="309.5" stroke="#e4e4e4" stroke-width="1"/>
<line x1="704.2" x2="704.2" y1="178.4" y2="309.5" stroke="#e4e4e4" stroke-width="1"/>
<line x1="610.2" x2="610.2" y1="272.09" y2="278.19" stroke="#333" stroke-width="1"/>
<line x1="610.2" x2="610.2" y1="300.29" y2="304.10" stroke="#333" stroke-width="1"/>
<rect x="574.80" y="278.19" width="70.80" height="22.10" fill="#fff" stroke="#333" stroke-width="1"/>
<line x1="574.80" x2="645.60" y1="287.33" y2="287.33" stroke="#333" stroke-width="1.6"/>
<line x1="704.2" x2="704.2" y1="184.46" y2="225.23" stroke="#333" stroke-width="1"/>
<line x1="704.2" x2="704.2" y1="250.00" y2="287.33" stroke="#333" stroke-width="1"/>
<rect x="668.80" y="225.23" width="70.80" height="24.77" fill="#fff" stroke="#333" stroke-width="1"/>
<line x1="668.80" x2="739.60" y1="238.57" y2="238.57" stroke="#333" stroke-width="1.6"/>
<circle cx="704.2" cy="184.46" r="1.3" fill="#333"/>
<circle cx="704.2" cy="188.27" r="1.3" fill="#333"/>
<circle cx="704.2" cy="287.33" r="1.3" fill="#333"/>
<rect x="553.5" y="178.4" width="208.0" height="131.1" fill="none" stroke="#333" stroke-width="1"/>
<text x="551.7" y="209.30" font-size="10" font-weight="normal" font-style="normal" text-anchor="end" fill="#333" stroke="#333" stroke-width="0.3" >1.5</text>
<line x1="551.5" x2="553.5" y1="205.80" y2="205.80" stroke="#333" stroke-width="0.8"/>
<text x="551.7" y="247.40" font-size="10" font-weight="normal" font-style="normal" text-anchor="end" fill="#333" stroke="#333" stroke-width="0.3" >1.0</text>
<line x1="551.5" x2="553.5" y1="243.90" y2="243.90" stroke="#333" stroke-width="0.8"/>
<text x="551.7" y="285.50" font-size="10" font-weight="normal" font-style="normal" text-anchor="end" fill="#333" stroke="#333" stroke-width="0.3" >0.5</text>
<line x1="551.5" x2="553.5" y1="282.00" y2="282.00" stroke="#333" stroke-width="0.8"/>
<line x1="610.2" x2="610.2" y1="309.5" y2="311.5" stroke="#333" stroke-width="0.8"/>
<text x="610.2" y="326.7" font-size="12.5" font-weight="normal" font-style="normal" text-anchor="middle" fill="#000" stroke="#000" stroke-width="0.45" >Not Swapped</text>
<line x1="704.2" x2="704.2" y1="309.5" y2="311.5" stroke="#333" stroke-width="0.8"/>
<text x="704.2" y="326.7" font-size="12.5" font-weight="normal" font-style="normal" text-anchor="middle" fill="#000" stroke="#000" stroke-width="0.45" >Swapped</text>
<text transform="translate(532.5,238.90) rotate(-90)" font-size="13.3" text-anchor="middle" textLength="101.0" lengthAdjust="spacingAndGlyphs" stroke="#000" stroke-width="0.4">Percent Chimeras</text>
<rect x="411.0" y="343.4" width="232.10" height="151.70" fill="#ebebeb"/>
<line x1="420.50" x2="420.50" y1="343.4" y2="495.1" stroke="#f5f5f5" stroke-width="0.6"/>
<line x1="463.10" x2="463.10" y1="343.4" y2="495.1" stroke="#f5f5f5" stroke-width="0.6"/>
<line x1="505.70" x2="505.70" y1="343.4" y2="495.1" stroke="#f5f5f5" stroke-width="0.6"/>
<line x1="548.30" x2="548.30" y1="343.4" y2="495.1" stroke="#f5f5f5" stroke-width="0.6"/>
<line x1="590.90" x2="590.90" y1="343.4" y2="495.1" stroke="#f5f5f5" stroke-width="0.6"/>
<line x1="633.50" x2="633.50" y1="343.4" y2="495.1" stroke="#f5f5f5" stroke-width="0.6"/>
<line x1="411.0" x2="643.1" y1="493.80" y2="493.80" stroke="#f5f5f5" stroke-width="0.6"/>
<line x1="411.0" x2="643.1" y1="440.60" y2="440.60" stroke="#f5f5f5" stroke-width="0.6"/>
<line x1="411.0" x2="643.1" y1="387.40" y2="387.40" stroke="#f5f5f5" stroke-width="0.6"/>
<line x1="441.80" x2="441.80" y1="343.4" y2="495.1" stroke="#fff" stroke-width="1.1"/>
<text x="441.80" y="503.5" font-size="8" font-weight="normal" font-style="normal" text-anchor="middle" fill="#777" stroke="#777" stroke-width="0.15" >30</text>
<line x1="441.80" x2="441.80" y1="495.1" y2="497.1" stroke="#7f7f7f" stroke-width="0.7"/>
<line x1="484.40" x2="484.40" y1="343.4" y2="495.1" stroke="#fff" stroke-width="1.1"/>
<text x="484.40" y="503.5" font-size="8" font-weight="normal" font-style="normal" text-anchor="middle" fill="#777" stroke="#777" stroke-width="0.15" >40</text>
<line x1="484.40" x2="484.40" y1="495.1" y2="497.1" stroke="#7f7f7f" stroke-width="0.7"/>
<line x1="527.00" x2="527.00" y1="343.4" y2="495.1" stroke="#fff" stroke-width="1.1"/>
<text x="527.00" y="503.5" font-size="8" font-weight="normal" font-style="normal" text-anchor="middle" fill="#777" stroke="#777" stroke-width="0.15" >50</text>
<line x1="527.00" x2="527.00" y1="495.1" y2="497.1" stroke="#7f7f7f" stroke-width="0.7"/>
<line x1="569.60" x2="569.60" y1="343.4" y2="495.1" stroke="#fff" stroke-width="1.1"/>
<text x="569.60" y="503.5" font-size="8" font-weight="normal" font-style="normal" text-anchor="middle" fill="#777" stroke="#777" stroke-width="0.15" >60</text>
<line x1="569.60" x2="569.60" y1="495.1" y2="497.1" stroke="#7f7f7f" stroke-width="0.7"/>
<line x1="612.20" x2="612.20" y1="343.4" y2="495.1" stroke="#fff" stroke-width="1.1"/>
<text x="612.20" y="503.5" font-size="8" font-weight="normal" font-style="normal" text-anchor="middle" fill="#777" stroke="#777" stroke-width="0.15" >70</text>
<line x1="612.20" x2="612.20" y1="495.1" y2="497.1" stroke="#7f7f7f" stroke-width="0.7"/>
<line x1="411.0" x2="643.1" y1="467.20" y2="467.20" stroke="#fff" stroke-width="1.1"/>
<text x="408.7" y="470.10" font-size="8" font-weight="normal" font-style="normal" text-anchor="end" fill="#777" stroke="#777" stroke-width="0.15" textLength="10">0.5</text>
<line x1="409.0" x2="411.0" y1="467.20" y2="467.20" stroke="#7f7f7f" stroke-width="0.7"/>
<line x1="411.0" x2="643.1" y1="414.00" y2="414.00" stroke="#fff" stroke-width="1.1"/>
<text x="408.7" y="416.90" font-size="8" font-weight="normal" font-style="normal" text-anchor="end" fill="#777" stroke="#777" stroke-width="0.15" textLength="10">1.0</text>
<line x1="409.0" x2="411.0" y1="414.00" y2="414.00" stroke="#7f7f7f" stroke-width="0.7"/>
<line x1="411.0" x2="643.1" y1="360.80" y2="360.80" stroke="#fff" stroke-width="1.1"/>
<text x="408.7" y="363.70" font-size="8" font-weight="normal" font-style="normal" text-anchor="end" fill="#777" stroke="#777" stroke-width="0.15" textLength="10">1.5</text>
<line x1="409.0" x2="411.0" y1="360.80" y2="360.80" stroke="#7f7f7f" stroke-width="0.7"/>
<defs><clipPath id="dclip"><rect x="411.0" y="343.4" width="232.10000000000002" height="151.70000000000005"/></clipPath></defs>
<g clip-path="url(#dclip)" fill="none" stroke-linejoin="round">
<path d="M421.40,401.35 L423.50,401.96 L425.60,402.68 L427.70,403.30 L429.80,404.09 L431.90,404.90 L434.00,405.39 L436.10,405.85 L438.20,406.40 L440.30,406.83 L442.40,407.24 L444.50,407.57 L446.60,408.11 L448.70,408.13 L450.80,407.70 L452.90,407.58 L455.00,407.22 L457.10,407.07 L459.20,406.80 L461.30,406.49 L463.40,405.74 L465.50,405.25 L467.60,404.59 L469.70,403.91 L471.80,403.62 L473.90,404.02 L476.00,404.27 L478.10,404.48 L480.20,404.50 L482.30,404.93 L484.40,405.61 L486.50,406.36 L488.60,407.29 L490.70,407.83 L492.80,408.77 L494.90,409.95 L497.00,410.89 L499.10,412.03 L501.20,413.14 L503.30,414.23 L505.40,415.13 L507.50,416.09 L509.60,417.06 L511.70,417.53 L513.80,418.65 L515.90,419.38 L518.00,420.09 L520.10,420.83 L522.20,420.83 L524.30,420.70 L526.40,421.08 L528.50,421.34 L530.60,421.38 L532.70,421.72 L534.80,421.75 L536.90,422.07 L539.00,422.42 L541.10,422.15 L543.20,422.55 L545.30,422.59 L547.40,422.94 L549.50,422.81 L551.60,423.16 L553.70,423.47 L555.80,423.99 L557.90,424.28 L560.00,423.74 L562.10,424.11 L564.20,424.80 L566.30,424.08 L568.40,424.84 L570.50,425.20 L572.60,425.98 L574.70,426.00 L576.80,425.92 L578.90,426.25 L581.00,426.67 L583.10,428.00 L585.20,427.29 L587.30,427.73 L589.40,428.52 L591.50,428.60 L593.60,428.94 L595.70,428.63 L597.80,429.99 L599.90,430.02 L602.00,432.21 L604.10,432.18 L606.20,431.83 L608.30,433.26 L610.40,432.31 L612.50,434.73 L614.60,432.96 L616.70,433.86 L618.80,430.46 L620.90,433.29 L623.00,429.31 L625.10,428.41 L627.20,431.74 L629.30,430.36 L632.50,432.42" stroke="#6f96cc" stroke-width="0.5" stroke-opacity="0.8"/>
<path d="M421.40,402.77 L423.50,403.48 L425.60,404.14 L427.70,404.70 L429.80,405.32 L431.90,406.04 L434.00,406.65 L436.10,406.93 L438.20,407.44 L440.30,407.86 L442.40,408.16 L444.50,408.71 L446.60,409.00 L448.70,409.13 L450.80,408.84 L452.90,408.61 L455.00,408.33 L457.10,408.17 L459.20,407.76 L461.30,407.40 L463.40,406.97 L465.50,406.11 L467.60,405.83 L469.70,404.97 L471.80,405.16 L473.90,405.12 L476.00,405.42 L478.10,405.48 L480.20,405.43 L482.30,406.00 L484.40,406.75 L486.50,407.33 L488.60,408.04 L490.70,408.78 L492.80,409.55 L494.90,410.86 L497.00,411.78 L499.10,412.92 L501.20,413.93 L503.30,415.04 L505.40,416.01 L507.50,417.12 L509.60,417.80 L511.70,418.77 L513.80,419.48 L515.90,420.22 L518.00,421.10 L520.10,421.47 L522.20,421.77 L524.30,421.94 L526.40,422.17 L528.50,422.20 L530.60,422.52 L532.70,423.21 L534.80,422.98 L536.90,423.12 L539.00,423.64 L541.10,424.10 L543.20,423.67 L545.30,424.18 L547.40,424.29 L549.50,424.22 L551.60,425.09 L553.70,425.11 L555.80,425.35 L557.90,425.35 L560.00,425.95 L562.10,425.88 L564.20,426.24 L566.30,426.13 L568.40,426.31 L570.50,427.53 L572.60,427.04 L574.70,427.62 L576.80,427.86 L578.90,428.04 L581.00,428.38 L583.10,429.36 L585.20,429.22 L587.30,429.68 L589.40,430.17 L591.50,431.32 L593.60,431.41 L595.70,431.65 L597.80,431.26 L599.90,430.81 L602.00,433.66 L604.10,434.20 L606.20,433.29 L608.30,434.65 L610.40,435.48 L612.50,435.85 L614.60,435.91 L616.70,433.48 L618.80,436.80 L620.90,431.65 L623.00,435.46 L625.10,434.64 L627.20,435.30 L629.30,437.36 L632.50,436.46" stroke="#6f96cc" stroke-width="0.5" stroke-opacity="0.8"/>
<path d="M421.40,401.59 L423.50,402.07 L425.60,402.85 L427.70,403.61 L429.80,404.02 L431.90,404.65 L434.00,405.57 L436.10,406.02 L438.20,406.42 L440.30,406.89 L442.40,407.23 L444.50,407.60 L446.60,408.18 L448.70,408.04 L450.80,407.76 L452.90,407.77 L455.00,407.50 L457.10,407.34 L459.20,406.98 L461.30,406.53 L463.40,405.86 L465.50,405.23 L467.60,404.70 L469.70,403.96 L471.80,404.03 L473.90,404.21 L476.00,404.58 L478.10,404.41 L480.20,404.83 L482.30,405.05 L484.40,405.79 L486.50,406.37 L488.60,407.21 L490.70,408.07 L492.80,408.84 L494.90,409.95 L497.00,411.00 L499.10,412.24 L501.20,413.21 L503.30,414.07 L505.40,415.27 L507.50,415.94 L509.60,416.60 L511.70,417.74 L513.80,418.79 L515.90,419.45 L518.00,420.10 L520.10,420.49 L522.20,420.98 L524.30,421.01 L526.40,421.17 L528.50,421.33 L530.60,421.53 L532.70,421.86 L534.80,421.99 L536.90,422.10 L539.00,422.01 L541.10,422.53 L543.20,422.42 L545.30,423.01 L547.40,422.60 L549.50,423.05 L551.60,423.25 L553.70,423.06 L555.80,424.06 L557.90,424.17 L560.00,423.75 L562.10,424.30 L564.20,424.34 L566.30,423.42 L568.40,424.60 L570.50,424.64 L572.60,424.85 L574.70,424.52 L576.80,425.12 L578.90,425.43 L581.00,426.40 L583.10,426.24 L585.20,426.32 L587.30,427.52 L589.40,426.49 L591.50,426.85 L593.60,426.09 L595.70,429.02 L597.80,428.97 L599.90,429.36 L602.00,429.53 L604.10,429.27 L606.20,429.76 L608.30,429.48 L610.40,429.88 L612.50,430.40 L614.60,432.50 L616.70,430.69 L618.80,429.35 L620.90,428.10 L623.00,427.66 L625.10,431.77 L627.20,429.34 L629.30,428.14 L632.50,426.81" stroke="#6f96cc" stroke-width="0.5" stroke-opacity="0.8"/>
<path d="M421.40,401.96 L423.50,402.49 L425.60,403.16 L427.70,403.83 L429.80,404.52 L431.90,405.00 L434.00,405.81 L436.10,406.20 L438.20,406.82 L440.30,407.07 L442.40,407.64 L444.50,408.17 L446.60,408.41 L448.70,408.32 L450.80,408.19 L452.90,407.96 L455.00,407.64 L457.10,407.59 L459.20,407.54 L461.30,406.83 L463.40,406.21 L465.50,405.49 L467.60,405.01 L469.70,404.21 L471.80,404.17 L473.90,404.59 L476.00,404.54 L478.10,404.92 L480.20,405.13 L482.30,405.31 L484.40,406.07 L486.50,406.95 L488.60,407.46 L490.70,408.15 L492.80,408.93 L494.90,410.16 L497.00,411.40 L499.10,412.44 L501.20,413.33 L503.30,414.43 L505.40,415.51 L507.50,416.42 L509.60,417.19 L511.70,418.06 L513.80,418.90 L515.90,419.64 L518.00,420.50 L520.10,420.91 L522.20,421.06 L524.30,421.34 L526.40,421.77 L528.50,421.75 L530.60,421.85 L532.70,421.70 L534.80,422.30 L536.90,422.00 L539.00,422.30 L541.10,422.99 L543.20,423.17 L545.30,423.18 L547.40,423.00 L549.50,423.54 L551.60,423.67 L553.70,424.24 L555.80,424.91 L557.90,424.56 L560.00,424.47 L562.10,424.56 L564.20,425.14 L566.30,425.32 L568.40,425.18 L570.50,425.89 L572.60,425.61 L574.70,426.79 L576.80,427.17 L578.90,427.58 L581.00,427.18 L583.10,428.09 L585.20,428.10 L587.30,428.32 L589.40,428.72 L591.50,428.44 L593.60,428.68 L595.70,430.81 L597.80,430.44 L599.90,431.29 L602.00,432.62 L604.10,429.91 L606.20,431.42 L608.30,433.13 L610.40,433.92 L612.50,433.02 L614.60,435.17 L616.70,433.72 L618.80,431.09 L620.90,431.41 L623.00,434.56 L625.10,433.82 L627.20,428.87 L629.30,435.55 L632.50,433.80" stroke="#6f96cc" stroke-width="0.5" stroke-opacity="0.8"/>
<path d="M421.40,403.40 L423.50,403.92 L425.60,404.91 L427.70,405.23 L429.80,406.02 L431.90,406.39 L434.00,407.09 L436.10,407.32 L438.20,407.86 L440.30,408.40 L442.40,408.56 L444.50,409.20 L446.60,409.53 L448.70,409.31 L450.80,409.16 L452.90,408.95 L455.00,408.78 L457.10,408.52 L459.20,408.28 L461.30,407.90 L463.40,407.26 L465.50,406.66 L467.60,406.22 L469.70,405.75 L471.80,405.40 L473.90,405.67 L476.00,405.70 L478.10,405.77 L480.20,406.06 L482.30,406.17 L484.40,407.12 L486.50,407.61 L488.60,408.47 L490.70,409.14 L492.80,409.93 L494.90,411.17 L497.00,412.18 L499.10,413.35 L501.20,414.37 L503.30,415.35 L505.40,416.50 L507.50,417.36 L509.60,418.30 L511.70,418.92 L513.80,419.86 L515.90,420.48 L518.00,421.64 L520.10,421.80 L522.20,421.93 L524.30,422.44 L526.40,422.88 L528.50,422.67 L530.60,422.98 L532.70,423.28 L534.80,423.44 L536.90,423.99 L539.00,423.98 L541.10,424.24 L543.20,424.79 L545.30,424.71 L547.40,425.25 L549.50,425.14 L551.60,425.31 L553.70,425.38 L555.80,426.64 L557.90,426.31 L560.00,426.76 L562.10,426.95 L564.20,427.30 L566.30,427.54 L568.40,428.52 L570.50,427.68 L572.60,427.73 L574.70,428.23 L576.80,428.48 L578.90,429.89 L581.00,430.38 L583.10,429.86 L585.20,430.01 L587.30,431.04 L589.40,432.58 L591.50,430.22 L593.60,432.94 L595.70,432.15 L597.80,434.43 L599.90,432.87 L602.00,434.10 L604.10,433.08 L606.20,434.09 L608.30,437.72 L610.40,437.48 L612.50,435.93 L614.60,435.05 L616.70,433.16 L618.80,435.61 L620.90,436.17 L623.00,435.98 L625.10,435.87 L627.20,433.67 L629.30,435.76 L632.50,435.69" stroke="#6f96cc" stroke-width="0.5" stroke-opacity="0.8"/>
<path d="M421.40,403.73 L423.50,404.26 L425.60,404.93 L427.70,405.47 L429.80,406.05 L431.90,406.72 L434.00,407.21 L436.10,407.81 L438.20,408.13 L440.30,408.56 L442.40,408.90 L444.50,409.24 L446.60,409.61 L448.70,409.61 L450.80,409.37 L452.90,409.24 L455.00,409.00 L457.10,408.65 L459.20,408.59 L461.30,408.01 L463.40,407.53 L465.50,407.01 L467.60,406.26 L469.70,405.93 L471.80,405.84 L473.90,405.90 L476.00,405.96 L478.10,406.05 L480.20,406.08 L482.30,406.39 L484.40,407.10 L486.50,407.90 L488.60,408.50 L490.70,409.38 L492.80,410.22 L494.90,411.28 L497.00,412.34 L499.10,413.54 L501.20,414.40 L503.30,415.71 L505.40,416.73 L507.50,417.58 L509.60,418.43 L511.70,419.15 L513.80,420.04 L515.90,421.00 L518.00,421.82 L520.10,422.21 L522.20,422.20 L524.30,422.78 L526.40,423.15 L528.50,423.38 L530.60,423.50 L532.70,423.41 L534.80,424.16 L536.90,424.19 L539.00,423.93 L541.10,424.84 L543.20,424.70 L545.30,425.03 L547.40,425.49 L549.50,426.27 L551.60,426.15 L553.70,426.63 L555.80,427.35 L557.90,427.69 L560.00,427.55 L562.10,427.87 L564.20,427.88 L566.30,428.44 L568.40,429.22 L570.50,429.60 L572.60,429.87 L574.70,430.65 L576.80,430.44 L578.90,431.32 L581.00,432.29 L583.10,432.81 L585.20,433.68 L587.30,433.88 L589.40,434.03 L591.50,435.06 L593.60,434.69 L595.70,434.67 L597.80,437.13 L599.90,437.15 L602.00,438.15 L604.10,436.40 L606.20,438.56 L608.30,438.82 L610.40,438.99 L612.50,437.19 L614.60,440.30 L616.70,442.52 L618.80,441.81 L620.90,440.17 L623.00,441.40 L625.10,443.10 L627.20,436.06 L629.30,441.66 L632.50,443.26" stroke="#6f96cc" stroke-width="0.5" stroke-opacity="0.8"/>
<path d="M421.40,403.91 L423.50,404.42 L425.60,405.02 L427.70,405.66 L429.80,406.12 L431.90,406.76 L434.00,407.46 L436.10,407.99 L438.20,408.16 L440.30,408.56 L442.40,408.98 L444.50,409.49 L446.60,409.73 L448.70,409.82 L450.80,409.36 L452.90,409.23 L455.00,409.01 L457.10,408.91 L459.20,408.72 L461.30,408.03 L463.40,407.53 L465.50,407.11 L467.60,406.45 L469.70,405.80 L471.80,405.97 L473.90,406.00 L476.00,406.09 L478.10,406.07 L480.20,406.32 L482.30,406.42 L484.40,407.30 L486.50,407.82 L488.60,408.56 L490.70,409.41 L492.80,410.16 L494.90,411.40 L497.00,412.45 L499.10,413.41 L501.20,414.61 L503.30,415.65 L505.40,416.83 L507.50,417.51 L509.60,418.37 L511.70,419.41 L513.80,420.39 L515.90,421.21 L518.00,421.80 L520.10,422.25 L522.20,422.71 L524.30,422.71 L526.40,422.82 L528.50,423.26 L530.60,423.58 L532.70,423.59 L534.80,423.68 L536.90,423.97 L539.00,424.67 L541.10,424.63 L543.20,425.06 L545.30,425.44 L547.40,425.84 L549.50,425.90 L551.60,426.42 L553.70,426.35 L555.80,426.79 L557.90,426.94 L560.00,427.96 L562.10,427.96 L564.20,428.08 L566.30,428.57 L568.40,428.99 L570.50,429.72 L572.60,429.18 L574.70,429.79 L576.80,430.61 L578.90,432.56 L581.00,432.39 L583.10,432.39 L585.20,433.44 L587.30,434.86 L589.40,434.02 L591.50,434.51 L593.60,436.21 L595.70,436.33 L597.80,437.13 L599.90,436.60 L602.00,439.82 L604.10,440.35 L606.20,439.64 L608.30,440.46 L610.40,437.13 L612.50,441.56 L614.60,440.37 L616.70,441.55 L618.80,442.15 L620.90,440.44 L623.00,437.97 L625.10,442.08 L627.20,439.97 L629.30,440.95 L632.50,440.41" stroke="#6f96cc" stroke-width="0.5" stroke-opacity="0.8"/>
<path d="M421.40,403.76 L423.50,404.26 L425.60,404.95 L427.70,405.64 L429.80,406.04 L431.90,406.44 L434.00,407.14 L436.10,407.53 L438.20,408.00 L440.30,408.45 L442.40,408.63 L444.50,409.27 L446.60,409.47 L448.70,409.59 L450.80,409.34 L452.90,409.11 L455.00,408.92 L457.10,408.66 L459.20,408.44 L461.30,407.90 L463.40,407.51 L465.50,407.15 L467.60,406.60 L469.70,405.97 L471.80,405.81 L473.90,405.76 L476.00,406.07 L478.10,406.01 L480.20,406.10 L482.30,406.32 L484.40,407.09 L486.50,407.77 L488.60,408.54 L490.70,409.17 L492.80,410.10 L494.90,411.47 L497.00,412.31 L499.10,413.39 L501.20,414.56 L503.30,415.67 L505.40,416.52 L507.50,417.45 L509.60,418.43 L511.70,419.19 L513.80,420.02 L515.90,421.05 L518.00,421.59 L520.10,422.12 L522.20,422.28 L524.30,422.85 L526.40,422.53 L528.50,422.99 L530.60,423.26 L532.70,423.74 L534.80,423.98 L536.90,424.41 L539.00,424.03 L541.10,424.77 L543.20,424.75 L545.30,424.88 L547.40,425.38 L549.50,425.22 L551.60,425.12 L553.70,425.77 L555.80,425.66 L557.90,426.12 L560.00,426.66 L562.10,426.88 L564.20,427.54 L566.30,427.15 L568.40,426.86 L570.50,427.36 L572.60,427.49 L574.70,427.57 L576.80,428.63 L578.90,428.47 L581.00,428.10 L583.10,429.84 L585.20,429.73 L587.30,430.34 L589.40,430.52 L591.50,431.19 L593.60,431.12 L595.70,432.46 L597.80,432.20 L599.90,432.56 L602.00,432.97 L604.10,431.13 L606.20,433.01 L608.30,433.20 L610.40,434.21 L612.50,431.93 L614.60,436.48 L616.70,433.74 L618.80,431.15 L620.90,429.89 L623.00,432.24 L625.10,432.34 L627.20,430.76 L629.30,432.16 L632.50,430.23" stroke="#6f96cc" stroke-width="0.5" stroke-opacity="0.8"/>
<path d="M421.40,404.42 L423.50,405.10 L425.60,405.84 L427.70,406.04 L429.80,406.67 L431.90,407.20 L434.00,407.94 L436.10,408.15 L438.20,408.59 L440.30,409.02 L442.40,409.30 L444.50,409.68 L446.60,410.11 L448.70,409.87 L450.80,409.73 L452.90,409.62 L455.00,409.47 L457.10,409.22 L459.20,408.84 L461.30,408.57 L463.40,408.17 L465.50,407.61 L467.60,407.01 L469.70,406.40 L471.80,406.44 L473.90,406.38 L476.00,406.37 L478.10,406.47 L480.20,406.76 L482.30,406.85 L484.40,407.69 L486.50,408.25 L488.60,409.13 L490.70,409.70 L492.80,410.60 L494.90,411.97 L497.00,412.88 L499.10,413.84 L501.20,414.97 L503.30,416.11 L505.40,417.24 L507.50,417.91 L509.60,418.61 L511.70,419.63 L513.80,420.51 L515.90,421.37 L518.00,422.39 L520.10,422.70 L522.20,423.05 L524.30,423.03 L526.40,423.63 L528.50,424.13 L530.60,424.18 L532.70,424.37 L534.80,424.63 L536.90,425.25 L539.00,424.95 L541.10,425.40 L543.20,425.80 L545.30,426.14 L547.40,426.12 L549.50,426.57 L551.60,426.68 L553.70,427.05 L555.80,427.25 L557.90,427.26 L560.00,427.90 L562.10,428.51 L564.20,428.20 L566.30,428.76 L568.40,429.40 L570.50,429.04 L572.60,429.84 L574.70,429.64 L576.80,431.07 L578.90,432.14 L581.00,432.53 L583.10,431.83 L585.20,432.84 L587.30,432.94 L589.40,433.39 L591.50,434.82 L593.60,433.29 L595.70,435.56 L597.80,435.12 L599.90,437.04 L602.00,436.30 L604.10,435.76 L606.20,437.38 L608.30,438.50 L610.40,437.99 L612.50,438.99 L614.60,437.30 L616.70,434.45 L618.80,439.61 L620.90,439.23 L623.00,438.15 L625.10,437.93 L627.20,439.85 L629.30,436.66 L632.50,435.97" stroke="#6f96cc" stroke-width="0.5" stroke-opacity="0.8"/>
<path d="M421.40,404.26 L423.50,405.10 L425.60,405.49 L427.70,406.01 L429.80,406.83 L431.90,407.26 L434.00,407.71 L436.10,408.21 L438.20,408.73 L440.30,409.14 L442.40,409.34 L444.50,409.81 L446.60,410.22 L448.70,410.01 L450.80,409.90 L452.90,409.65 L455.00,409.39 L457.10,409.18 L459.20,409.03 L461.30,408.61 L463.40,408.01 L465.50,407.50 L467.60,407.12 L469.70,406.50 L471.80,406.46 L473.90,406.55 L476.00,406.54 L478.10,406.78 L480.20,406.51 L482.30,406.90 L484.40,407.52 L486.50,408.48 L488.60,409.20 L490.70,409.55 L492.80,410.51 L494.90,411.77 L497.00,412.87 L499.10,413.96 L501.20,414.96 L503.30,416.11 L505.40,417.17 L507.50,417.94 L509.60,418.92 L511.70,419.37 L513.80,420.58 L515.90,421.21 L518.00,422.33 L520.10,422.60 L522.20,422.78 L524.30,423.25 L526.40,423.31 L528.50,423.58 L530.60,423.73 L532.70,424.30 L534.80,424.68 L536.90,425.07 L539.00,425.10 L541.10,425.66 L543.20,425.73 L545.30,426.01 L547.40,426.47 L549.50,426.91 L551.60,426.85 L553.70,427.18 L555.80,427.51 L557.90,427.95 L560.00,428.01 L562.10,429.00 L564.20,428.90 L566.30,429.58 L568.40,429.49 L570.50,430.32 L572.60,430.72 L574.70,430.78 L576.80,432.44 L578.90,432.26 L581.00,433.56 L583.10,433.73 L585.20,433.39 L587.30,434.11 L589.40,435.20 L591.50,435.54 L593.60,436.11 L595.70,436.41 L597.80,435.58 L599.90,437.57 L602.00,435.94 L604.10,439.40 L606.20,438.60 L608.30,439.13 L610.40,440.38 L612.50,441.55 L614.60,438.88 L616.70,438.35 L618.80,439.54 L620.90,437.77 L623.00,439.80 L625.10,444.94 L627.20,439.72 L629.30,443.41 L632.50,439.06" stroke="#6f96cc" stroke-width="0.5" stroke-opacity="0.8"/>
<path d="M421.40,404.99 L423.50,405.61 L425.60,406.29 L427.70,406.67 L429.80,407.22 L431.90,407.66 L434.00,408.37 L436.10,408.68 L438.20,409.16 L440.30,409.44 L442.40,409.99 L444.50,409.97 L446.60,410.51 L448.70,410.56 L450.80,410.22 L452.90,409.96 L455.00,409.81 L457.10,409.48 L459.20,409.42 L461.30,409.27 L463.40,408.62 L465.50,407.87 L467.60,407.39 L469.70,406.92 L471.80,406.95 L473.90,406.79 L476.00,406.84 L478.10,407.04 L480.20,407.07 L482.30,407.14 L484.40,407.79 L486.50,408.48 L488.60,409.30 L490.70,409.88 L492.80,411.04 L494.90,411.99 L497.00,413.20 L499.10,414.43 L501.20,415.45 L503.30,416.30 L505.40,417.56 L507.50,418.45 L509.60,419.08 L511.70,419.91 L513.80,420.86 L515.90,421.52 L518.00,422.79 L520.10,422.69 L522.20,423.17 L524.30,423.59 L526.40,423.90 L528.50,424.26 L530.60,424.58 L532.70,424.79 L534.80,425.35 L536.90,424.98 L539.00,425.72 L541.10,425.86 L543.20,426.34 L545.30,426.65 L547.40,426.66 L549.50,427.01 L551.60,427.67 L553.70,427.85 L555.80,427.85 L557.90,428.99 L560.00,429.46 L562.10,428.61 L564.20,429.54 L566.30,430.69 L568.40,430.43 L570.50,430.57 L572.60,430.74 L574.70,430.96 L576.80,431.61 L578.90,431.95 L581.00,433.11 L583.10,433.02 L585.20,433.50 L587.30,433.53 L589.40,434.74 L591.50,434.68 L593.60,435.65 L595.70,437.13 L597.80,437.12 L599.90,437.79 L602.00,438.17 L604.10,438.35 L606.20,438.61 L608.30,438.85 L610.40,440.89 L612.50,438.40 L614.60,442.28 L616.70,440.14 L618.80,438.75 L620.90,439.16 L623.00,438.76 L625.10,440.36 L627.20,438.55 L629.30,442.45 L632.50,438.27" stroke="#6f96cc" stroke-width="0.5" stroke-opacity="0.8"/>
<path d="M421.40,403.86 L423.50,404.65 L425.60,405.35 L427.70,405.89 L429.80,406.27 L431.90,406.91 L434.00,407.76 L436.10,408.03 L438.20,408.38 L440.30,408.87 L442.40,409.41 L444.50,409.67 L446.60,409.94 L448.70,409.89 L450.80,409.71 L452.90,409.36 L455.00,409.11 L457.10,409.01 L459.20,408.69 L461.30,408.37 L463.40,407.84 L465.50,407.53 L467.60,406.65 L469.70,406.18 L471.80,406.07 L473.90,406.21 L476.00,406.35 L478.10,406.26 L480.20,406.30 L482.30,406.44 L484.40,407.25 L486.50,408.14 L488.60,408.82 L490.70,409.44 L492.80,410.36 L494.90,411.50 L497.00,412.64 L499.10,413.61 L501.20,414.74 L503.30,415.67 L505.40,416.78 L507.50,417.93 L509.60,418.34 L511.70,419.39 L513.80,420.31 L515.90,421.08 L518.00,421.86 L520.10,422.39 L522.20,422.67 L524.30,422.92 L526.40,422.88 L528.50,423.44 L530.60,423.58 L532.70,423.89 L534.80,424.31 L536.90,424.67 L539.00,424.99 L541.10,424.95 L543.20,425.53 L545.30,425.86 L547.40,426.11 L549.50,426.44 L551.60,426.30 L553.70,426.55 L555.80,427.08 L557.90,426.74 L560.00,427.51 L562.10,427.57 L564.20,427.91 L566.30,427.71 L568.40,428.29 L570.50,428.91 L572.60,429.57 L574.70,429.94 L576.80,429.93 L578.90,430.32 L581.00,430.43 L583.10,431.53 L585.20,431.60 L587.30,432.56 L589.40,433.76 L591.50,433.05 L593.60,432.44 L595.70,433.27 L597.80,433.11 L599.90,433.69 L602.00,436.77 L604.10,436.07 L606.20,434.29 L608.30,437.61 L610.40,439.02 L612.50,436.87 L614.60,436.24 L616.70,436.69 L618.80,437.68 L620.90,438.27 L623.00,439.26 L625.10,439.32 L627.20,439.25 L629.30,439.62 L632.50,438.09" stroke="#6f96cc" stroke-width="0.5" stroke-opacity="0.8"/>
<path d="M421.40,404.82 L423.50,405.30 L425.60,406.00 L427.70,406.43 L429.80,406.93 L431.90,407.74 L434.00,408.21 L436.10,408.57 L438.20,409.01 L440.30,409.40 L442.40,409.69 L444.50,409.77 L446.60,410.33 L448.70,410.28 L450.80,410.01 L452.90,409.93 L455.00,409.82 L457.10,409.43 L459.20,409.15 L461.30,409.08 L463.40,408.30 L465.50,407.70 L467.60,407.33 L469.70,406.83 L471.80,406.60 L473.90,406.80 L476.00,406.70 L478.10,406.70 L480.20,406.86 L482.30,407.13 L484.40,407.71 L486.50,408.55 L488.60,409.24 L490.70,410.28 L492.80,410.76 L494.90,412.07 L497.00,413.01 L499.10,414.09 L501.20,415.27 L503.30,416.38 L505.40,417.47 L507.50,418.22 L509.60,418.97 L511.70,419.82 L513.80,420.81 L515.90,421.67 L518.00,422.64 L520.10,422.96 L522.20,423.35 L524.30,423.72 L526.40,423.80 L528.50,423.80 L530.60,424.13 L532.70,424.36 L534.80,425.25 L536.90,425.04 L539.00,425.78 L541.10,425.93 L543.20,426.49 L545.30,426.62 L547.40,426.64 L549.50,426.90 L551.60,427.26 L553.70,427.57 L555.80,427.66 L557.90,428.15 L560.00,429.00 L562.10,428.29 L564.20,429.29 L566.30,429.22 L568.40,429.96 L570.50,430.56 L572.60,430.56 L574.70,431.27 L576.80,430.73 L578.90,432.50 L581.00,432.17 L583.10,433.33 L585.20,433.61 L587.30,432.43 L589.40,434.04 L591.50,435.18 L593.60,436.66 L595.70,436.28 L597.80,436.79 L599.90,435.65 L602.00,439.14 L604.10,440.23 L606.20,438.61 L608.30,438.78 L610.40,437.20 L612.50,441.31 L614.60,444.34 L616.70,441.15 L618.80,442.17 L620.90,440.93 L623.00,438.03 L625.10,442.58 L627.20,437.38 L629.30,439.47 L632.50,440.55" stroke="#6f96cc" stroke-width="0.5" stroke-opacity="0.8"/>
<path d="M421.40,406.37 L423.50,406.75 L425.60,407.20 L427.70,407.85 L429.80,408.28 L431.90,408.72 L434.00,409.23 L436.10,409.68 L438.20,409.88 L440.30,410.27 L442.40,410.58 L444.50,411.11 L446.60,411.48 L448.70,411.57 L450.80,410.99 L452.90,410.86 L455.00,410.82 L457.10,410.49 L459.20,410.26 L461.30,410.11 L463.40,409.43 L465.50,408.89 L467.60,408.41 L469.70,408.12 L471.80,407.96 L473.90,407.76 L476.00,407.78 L478.10,407.91 L480.20,407.89 L482.30,407.91 L484.40,408.78 L486.50,409.51 L488.60,410.00 L490.70,410.88 L492.80,411.81 L494.90,412.80 L497.00,413.73 L499.10,415.01 L501.20,416.21 L503.30,417.39 L505.40,418.04 L507.50,419.43 L509.60,419.87 L511.70,420.99 L513.80,421.89 L515.90,422.73 L518.00,423.49 L520.10,423.79 L522.20,424.40 L524.30,424.53 L526.40,424.56 L528.50,425.84 L530.60,425.81 L532.70,426.37 L534.80,426.18 L536.90,427.01 L539.00,427.39 L541.10,427.74 L543.20,427.73 L545.30,427.78 L547.40,428.37 L549.50,428.19 L551.60,428.64 L553.70,429.46 L555.80,429.49 L557.90,430.15 L560.00,430.60 L562.10,431.69 L564.20,431.94 L566.30,431.91 L568.40,432.80 L570.50,432.48 L572.60,433.07 L574.70,434.04 L576.80,433.71 L578.90,434.76 L581.00,434.82 L583.10,436.19 L585.20,437.69 L587.30,436.90 L589.40,438.12 L591.50,437.98 L593.60,438.37 L595.70,438.76 L597.80,441.65 L599.90,443.27 L602.00,442.00 L604.10,441.18 L606.20,443.51 L608.30,442.71 L610.40,444.92 L612.50,444.61 L614.60,444.73 L616.70,445.43 L618.80,443.48 L620.90,443.88 L623.00,441.44 L625.10,443.98 L627.20,442.04 L629.30,444.78 L632.50,443.13" stroke="#6f96cc" stroke-width="0.5" stroke-opacity="0.8"/>
<path d="M421.40,406.14 L423.50,406.71 L425.60,407.20 L427.70,407.89 L429.80,408.50 L431.90,408.92 L434.00,409.30 L436.10,409.85 L438.20,409.88 L440.30,410.54 L442.40,410.66 L444.50,410.78 L446.60,411.69 L448.70,411.50 L450.80,411.01 L452.90,410.92 L455.00,410.67 L457.10,410.49 L459.20,410.12 L461.30,409.83 L463.40,409.49 L465.50,409.00 L467.60,408.64 L469.70,408.06 L471.80,408.15 L473.90,407.80 L476.00,407.88 L478.10,407.62 L480.20,407.67 L482.30,408.10 L484.40,408.59 L486.50,409.48 L488.60,410.15 L490.70,410.78 L492.80,411.71 L494.90,412.78 L497.00,413.88 L499.10,415.10 L501.20,416.18 L503.30,417.14 L505.40,418.15 L507.50,419.15 L509.60,419.97 L511.70,420.97 L513.80,422.05 L515.90,422.69 L518.00,423.44 L520.10,423.91 L522.20,424.15 L524.30,424.47 L526.40,424.79 L528.50,425.23 L530.60,425.56 L532.70,426.13 L534.80,426.25 L536.90,426.63 L539.00,426.75 L541.10,427.72 L543.20,427.81 L545.30,428.46 L547.40,428.57 L549.50,429.09 L551.60,428.99 L553.70,429.58 L555.80,430.48 L557.90,429.79 L560.00,430.95 L562.10,431.57 L564.20,431.59 L566.30,432.15 L568.40,432.78 L570.50,432.47 L572.60,433.33 L574.70,433.23 L576.80,433.91 L578.90,434.54 L581.00,435.39 L583.10,436.16 L585.20,436.96 L587.30,436.42 L589.40,439.23 L591.50,439.34 L593.60,439.68 L595.70,439.42 L597.80,440.21 L599.90,441.42 L602.00,441.89 L604.10,439.95 L606.20,443.54 L608.30,447.27 L610.40,440.91 L612.50,445.72 L614.60,444.86 L616.70,444.17 L618.80,446.98 L620.90,442.36 L623.00,445.04 L625.10,447.83 L627.20,444.54 L629.30,444.16 L632.50,445.53" stroke="#6f96cc" stroke-width="0.5" stroke-opacity="0.8"/>
<path d="M421.40,406.26 L423.50,406.96 L425.60,407.23 L427.70,407.95 L429.80,408.37 L431.90,408.61 L434.00,409.39 L436.10,409.64 L438.20,410.05 L440.30,410.60 L442.40,410.66 L444.50,411.00 L446.60,411.61 L448.70,411.39 L450.80,411.33 L452.90,410.99 L455.00,410.65 L457.10,410.52 L459.20,410.45 L461.30,410.05 L463.40,409.49 L465.50,409.04 L467.60,408.56 L469.70,408.05 L471.80,408.17 L473.90,407.93 L476.00,407.78 L478.10,407.82 L480.20,407.93 L482.30,408.07 L484.40,408.72 L486.50,409.40 L488.60,410.21 L490.70,410.76 L492.80,411.65 L494.90,412.97 L497.00,413.92 L499.10,415.10 L501.20,416.28 L503.30,417.31 L505.40,418.29 L507.50,419.40 L509.60,420.10 L511.70,420.85 L513.80,421.85 L515.90,422.68 L518.00,423.37 L520.10,424.00 L522.20,424.30 L524.30,424.35 L526.40,424.99 L528.50,425.31 L530.60,425.62 L532.70,425.72 L534.80,426.32 L536.90,426.73 L539.00,427.10 L541.10,427.17 L543.20,427.95 L545.30,427.86 L547.40,428.47 L549.50,429.23 L551.60,429.07 L553.70,429.48 L555.80,430.30 L557.90,430.34 L560.00,430.83 L562.10,431.46 L564.20,432.23 L566.30,431.52 L568.40,432.49 L570.50,432.88 L572.60,433.31 L574.70,433.89 L576.80,434.54 L578.90,435.76 L581.00,435.82 L583.10,437.04 L585.20,437.90 L587.30,437.89 L589.40,439.12 L591.50,440.85 L593.60,440.64 L595.70,440.51 L597.80,441.61 L599.90,441.37 L602.00,443.26 L604.10,444.65 L606.20,443.16 L608.30,444.58 L610.40,447.20 L612.50,445.23 L614.60,446.57 L616.70,444.69 L618.80,445.22 L620.90,445.97 L623.00,451.35 L625.10,446.59 L627.20,446.55 L629.30,446.68 L632.50,447.82" stroke="#6f96cc" stroke-width="0.5" stroke-opacity="0.8"/>
<path d="M421.40,407.47 L423.50,407.75 L425.60,408.36 L427.70,408.71 L429.80,409.22 L431.90,409.48 L434.00,410.09 L436.10,410.44 L438.20,410.75 L440.30,410.87 L442.40,411.51 L444.50,411.70 L446.60,412.01 L448.70,411.95 L450.80,411.74 L452.90,411.60 L455.00,411.21 L457.10,411.03 L459.20,410.95 L461.30,410.59 L463.40,410.11 L465.50,409.66 L467.60,409.20 L469.70,408.85 L471.80,408.81 L473.90,408.51 L476.00,408.72 L478.10,408.58 L480.20,408.37 L482.30,408.63 L484.40,409.13 L486.50,409.83 L488.60,410.61 L490.70,411.44 L492.80,412.30 L494.90,413.37 L497.00,414.53 L499.10,415.38 L501.20,416.75 L503.30,417.64 L505.40,418.77 L507.50,419.67 L509.60,420.45 L511.70,421.29 L513.80,422.21 L515.90,423.21 L518.00,424.17 L520.10,424.69 L522.20,424.83 L524.30,425.23 L526.40,425.57 L528.50,426.18 L530.60,426.10 L532.70,427.09 L534.80,427.13 L536.90,427.44 L539.00,428.05 L541.10,428.58 L543.20,428.79 L545.30,429.32 L547.40,429.47 L549.50,430.11 L551.60,430.48 L553.70,430.48 L555.80,431.27 L557.90,431.38 L560.00,431.82 L562.10,431.96 L564.20,432.62 L566.30,433.46 L568.40,433.15 L570.50,434.35 L572.60,434.70 L574.70,435.15 L576.80,434.68 L578.90,436.29 L581.00,437.32 L583.10,437.22 L585.20,438.34 L587.30,437.48 L589.40,440.01 L591.50,439.77 L593.60,441.47 L595.70,439.92 L597.80,442.63 L599.90,442.33 L602.00,444.03 L604.10,442.61 L606.20,443.49 L608.30,447.96 L610.40,444.20 L612.50,444.75 L614.60,445.54 L616.70,444.39 L618.80,448.38 L620.90,449.59 L623.00,445.18 L625.10,443.23 L627.20,449.21 L629.30,449.28 L632.50,449.00" stroke="#6f96cc" stroke-width="0.5" stroke-opacity="0.8"/>
<path d="M421.40,407.83 L423.50,408.16 L425.60,408.61 L427.70,409.32 L429.80,409.60 L431.90,410.36 L434.00,410.58 L436.10,410.84 L438.20,411.30 L440.30,411.72 L442.40,411.89 L444.50,412.02 L446.60,412.50 L448.70,412.52 L450.80,412.11 L452.90,411.87 L455.00,411.84 L457.10,411.54 L459.20,411.20 L461.30,410.94 L463.40,410.50 L465.50,410.20 L467.60,409.78 L469.70,409.48 L471.80,409.25 L473.90,408.92 L476.00,409.03 L478.10,408.99 L480.20,408.85 L482.30,409.01 L484.40,409.58 L486.50,410.27 L488.60,411.21 L490.70,411.73 L492.80,412.47 L494.90,413.89 L497.00,414.80 L499.10,415.93 L501.20,416.91 L503.30,418.01 L505.40,419.08 L507.50,420.04 L509.60,421.00 L511.70,421.56 L513.80,422.82 L515.90,423.44 L518.00,424.34 L520.10,425.11 L522.20,425.40 L524.30,425.56 L526.40,426.51 L528.50,426.44 L530.60,427.04 L532.70,427.42 L534.80,428.06 L536.90,428.08 L539.00,428.79 L541.10,428.78 L543.20,429.57 L545.30,429.49 L547.40,429.93 L549.50,430.86 L551.60,430.81 L553.70,431.11 L555.80,432.05 L557.90,431.99 L560.00,432.09 L562.10,433.04 L564.20,432.85 L566.30,434.11 L568.40,434.60 L570.50,434.37 L572.60,434.77 L574.70,435.56 L576.80,436.12 L578.90,436.27 L581.00,437.66 L583.10,436.87 L585.20,438.36 L587.30,438.97 L589.40,439.65 L591.50,440.63 L593.60,440.13 L595.70,442.02 L597.80,441.90 L599.90,441.94 L602.00,441.61 L604.10,442.22 L606.20,444.61 L608.30,443.33 L610.40,445.27 L612.50,447.20 L614.60,447.30 L616.70,448.34 L618.80,445.21 L620.90,443.79 L623.00,447.81 L625.10,446.51 L627.20,448.26 L629.30,446.00 L632.50,448.84" stroke="#6f96cc" stroke-width="0.5" stroke-opacity="0.8"/>
<path d="M421.40,408.10 L423.50,408.53 L425.60,408.96 L427.70,409.41 L429.80,409.94 L431.90,410.23 L434.00,410.91 L436.10,411.05 L438.20,411.47 L440.30,411.66 L442.40,411.95 L444.50,412.50 L446.60,412.56 L448.70,412.37 L450.80,412.22 L452.90,412.05 L455.00,412.09 L457.10,411.68 L459.20,411.54 L461.30,411.01 L463.40,410.76 L465.50,410.39 L467.60,410.11 L469.70,409.45 L471.80,409.40 L473.90,409.26 L476.00,409.02 L478.10,409.03 L480.20,408.90 L482.30,408.78 L484.40,409.82 L486.50,410.55 L488.60,411.18 L490.70,411.82 L492.80,412.97 L494.90,413.93 L497.00,415.10 L499.10,416.23 L501.20,417.12 L503.30,418.35 L505.40,419.29 L507.50,420.19 L509.60,421.07 L511.70,421.96 L513.80,422.99 L515.90,423.75 L518.00,424.59 L520.10,425.11 L522.20,425.60 L524.30,425.81 L526.40,426.27 L528.50,426.75 L530.60,427.05 L532.70,427.54 L534.80,427.84 L536.90,428.78 L539.00,429.05 L541.10,429.26 L543.20,429.54 L545.30,430.48 L547.40,430.42 L549.50,430.71 L551.60,431.21 L553.70,431.60 L555.80,432.30 L557.90,432.41 L560.00,433.59 L562.10,433.16 L564.20,434.20 L566.30,434.12 L568.40,435.67 L570.50,435.37 L572.60,435.98 L574.70,436.93 L576.80,437.83 L578.90,437.44 L581.00,438.51 L583.10,438.64 L585.20,440.20 L587.30,440.77 L589.40,441.32 L591.50,441.80 L593.60,442.68 L595.70,442.97 L597.80,444.68 L599.90,446.34 L602.00,443.32 L604.10,445.92 L606.20,446.14 L608.30,447.97 L610.40,446.50 L612.50,448.17 L614.60,446.92 L616.70,450.03 L618.80,449.24 L620.90,448.98 L623.00,450.20 L625.10,449.22 L627.20,446.72 L629.30,451.41 L632.50,451.14" stroke="#6f96cc" stroke-width="0.5" stroke-opacity="0.8"/>
<path d="M421.40,407.46 L423.50,408.01 L425.60,408.50 L427.70,408.79 L429.80,409.28 L431.90,409.92 L434.00,410.38 L436.10,410.56 L438.20,410.84 L440.30,411.20 L442.40,411.53 L444.50,411.77 L446.60,412.21 L448.70,412.02 L450.80,411.82 L452.90,411.76 L455.00,411.43 L457.10,411.27 L459.20,411.11 L461.30,410.78 L463.40,410.27 L465.50,409.88 L467.60,409.40 L469.70,409.17 L471.80,408.91 L473.90,408.71 L476.00,408.71 L478.10,408.69 L480.20,408.59 L482.30,408.81 L484.40,409.51 L486.50,410.10 L488.60,410.87 L490.70,411.51 L492.80,412.48 L494.90,413.57 L497.00,414.85 L499.10,415.74 L501.20,416.67 L503.30,417.87 L505.40,418.98 L507.50,419.74 L509.60,420.65 L511.70,421.57 L513.80,422.51 L515.90,423.34 L518.00,424.14 L520.10,424.83 L522.20,425.08 L524.30,425.46 L526.40,425.73 L528.50,426.18 L530.60,426.75 L532.70,426.82 L534.80,427.42 L536.90,427.91 L539.00,428.13 L541.10,428.61 L543.20,428.77 L545.30,429.57 L547.40,429.92 L549.50,430.15 L551.60,430.16 L553.70,430.67 L555.80,431.46 L557.90,432.12 L560.00,432.32 L562.10,433.21 L564.20,433.43 L566.30,434.19 L568.40,434.89 L570.50,435.67 L572.60,435.77 L574.70,437.17 L576.80,438.18 L578.90,438.22 L581.00,438.98 L583.10,440.49 L585.20,440.94 L587.30,441.04 L589.40,443.32 L591.50,443.88 L593.60,444.42 L595.70,446.67 L597.80,446.33 L599.90,446.48 L602.00,447.74 L604.10,447.40 L606.20,448.08 L608.30,449.54 L610.40,448.95 L612.50,449.27 L614.60,451.70 L616.70,450.78 L618.80,450.72 L620.90,450.38 L623.00,450.32 L625.10,451.70 L627.20,449.58 L629.30,452.41 L632.50,448.33" stroke="#6a92c9" stroke-width="0.55"/>
<path d="M421.40,406.10 L423.50,406.67 L425.60,407.24 L427.70,407.81 L429.80,408.38 L431.90,408.95 L434.00,409.52 L436.10,409.92 L438.20,410.30 L440.30,410.68 L442.40,411.06 L444.50,411.43 L446.60,411.81 L448.70,411.74 L450.80,411.53 L452.90,411.32 L455.00,411.10 L457.10,410.89 L459.20,410.68 L461.30,410.27 L463.40,409.74 L465.50,409.21 L467.60,408.68 L469.70,408.15 L471.80,408.04 L473.90,408.09 L476.00,408.15 L478.10,408.20 L480.20,408.26 L482.30,408.47 L484.40,409.21 L486.50,409.94 L488.60,410.68 L490.70,411.41 L492.80,412.26 L494.90,413.35 L497.00,414.44 L499.10,415.54 L501.20,416.63 L503.30,417.72 L505.00,417.50 L520.00,421.00 L537.00,422.60 L555.00,421.90 L580.00,420.80 L595.20,418.90 L610.50,416.60 L619.60,414.70 L632.20,410.50" stroke="#f07a66" stroke-width="0.6" stroke-opacity="0.75"/>
<path d="M421.40,406.60 L423.50,407.17 L425.60,407.74 L427.70,408.31 L429.80,408.88 L431.90,409.45 L434.00,410.02 L436.10,410.42 L438.20,410.80 L440.30,411.18 L442.40,411.56 L444.50,411.93 L446.60,412.31 L448.70,412.24 L450.80,412.03 L452.90,411.82 L455.00,411.60 L457.10,411.39 L459.20,411.18 L461.30,410.77 L463.40,410.24 L465.50,409.71 L467.60,409.18 L469.70,408.65 L471.80,408.54 L473.90,408.59 L476.00,408.65 L478.10,408.70 L480.20,408.76 L482.30,408.97 L484.40,409.71 L486.50,410.44 L488.60,411.18 L490.70,411.91 L492.80,412.76 L494.90,413.85 L497.00,414.94 L499.10,416.04 L501.20,417.13 L503.30,418.22 L505.00,418.00 L520.00,423.00 L537.00,425.00 L560.00,425.50 L580.00,424.20 L595.20,423.00 L610.50,421.90 L619.60,421.40 L632.20,416.30" stroke="#f07a66" stroke-width="0.6" stroke-opacity="0.75"/>
<path d="M421.40,405.70 L423.50,406.27 L425.60,406.84 L427.70,407.41 L429.80,407.98 L431.90,408.55 L434.00,409.12 L436.10,409.52 L438.20,409.90 L440.30,410.28 L442.40,410.66 L444.50,411.03 L446.60,411.41 L448.70,411.34 L450.80,411.13 L452.90,410.92 L455.00,410.70 L457.10,410.49 L459.20,410.28 L461.30,409.87 L463.40,409.34 L465.50,408.81 L467.60,408.28 L469.70,407.75 L471.80,407.64 L473.90,407.69 L476.00,407.75 L478.10,407.80 L480.20,407.86 L482.30,408.07 L484.40,408.81 L486.50,409.54 L488.60,410.28 L490.70,411.01 L492.80,411.86 L494.90,412.95 L497.00,414.04 L499.10,415.14 L501.20,416.23 L503.30,417.32 L505.00,418.20 L520.00,423.50 L537.00,426.00 L556.00,427.50 L575.00,427.50 L595.20,427.20 L610.50,428.50 L619.60,428.00 L632.20,425.40" stroke="#f07a66" stroke-width="0.6" stroke-opacity="0.75"/>
<path d="M421.40,413.10 L434.30,416.30 L445.80,417.40 L457.40,416.30 L469.00,414.40 L479.30,413.40 L487.00,413.80 L497.30,415.00 L507.50,417.60 L518.60,419.20 L537.30,417.40 L555.90,413.60 L574.50,409.00 L580.00,408.20 L589.10,405.10 L598.30,401.30 L603.60,398.30 L607.40,399.50 L611.20,395.20 L615.80,397.50 L619.60,396.80 L625.70,392.20 L632.60,386.10" stroke="#49b548" stroke-width="0.8"/>
</g>
<rect x="425.3" y="345.3" width="200.99999999999994" height="42.69999999999999" fill="#fff" stroke="#6a8ccb" stroke-width="1.4"/>
<rect x="429.2" y="349.1" width="26" height="5.1" rx="1.2" fill="#741a14"/>
<rect x="429.2" y="363.8" width="26" height="4.4" rx="1" fill="#5b84c4"/>
<rect x="429.2" y="378.1" width="26" height="4.9" rx="0.5" fill="#14ad50"/>
<text x="466.5" y="355.3" font-size="10.45" font-weight="normal" font-style="normal" text-anchor="start" fill="#000" stroke="#000" stroke-width="0.4" >Non-swapped dual index reads</text>
<text x="466.5" y="369.9" font-size="10.45" font-weight="normal" font-style="normal" text-anchor="start" fill="#000" stroke="#000" stroke-width="0.4" >Swapped dual index reads</text>
<text x="466.5" y="384.3" font-size="10.45" font-weight="normal" font-style="normal" text-anchor="start" fill="#000" stroke="#000" stroke-width="0.4" >All other non-demultiplexed reads</text>
<text x="524.3" y="518.8" font-size="12.8" font-weight="bold" font-style="normal" text-anchor="middle" fill="#000" textLength="129.5" lengthAdjust="spacingAndGlyphs">% GC Content of Reads</text>
<text transform="translate(394.2,411.7) rotate(-90)" font-size="12.6" font-weight="bold" text-anchor="middle" textLength="119" lengthAdjust="spacingAndGlyphs">Normalized Coverage</text>
<rect x="0" y="0" width="778" height="1.5" fill="#000"/>
<rect x="0" y="0" width="1.5" height="525" fill="#000"/>
<rect x="776" y="0" width="2" height="525" fill="#000"/>
<rect x="0" y="523" width="778" height="2" fill="#000"/>
<rect x="252.1" y="0" width="2" height="525" fill="#000"/>
<rect x="253" y="158.1" width="525" height="1.9" fill="#000"/>
<rect x="253" y="339.1" width="525" height="1.9" fill="#000"/>
<text x="6.5" y="20.6" font-size="20.3" font-weight="bold" font-style="normal" text-anchor="start" fill="#000" textLength="25.4" lengthAdjust="spacingAndGlyphs">(a)</text>
<text x="259.0" y="20.6" font-size="20.3" font-weight="bold" font-style="normal" text-anchor="start" fill="#000" textLength="25.4" lengthAdjust="spacingAndGlyphs">(b)</text>
<text x="259.4" y="182.4" font-size="20.3" font-weight="bold" font-style="normal" text-anchor="start" fill="#000" textLength="24.2" lengthAdjust="spacingAndGlyphs">(c)</text>
<text x="258.9" y="363.2" font-size="20.3" font-weight="bold" font-style="normal" text-anchor="start" fill="#000" textLength="26.2" lengthAdjust="spacingAndGlyphs">(d)</text>
</svg></body></html>
